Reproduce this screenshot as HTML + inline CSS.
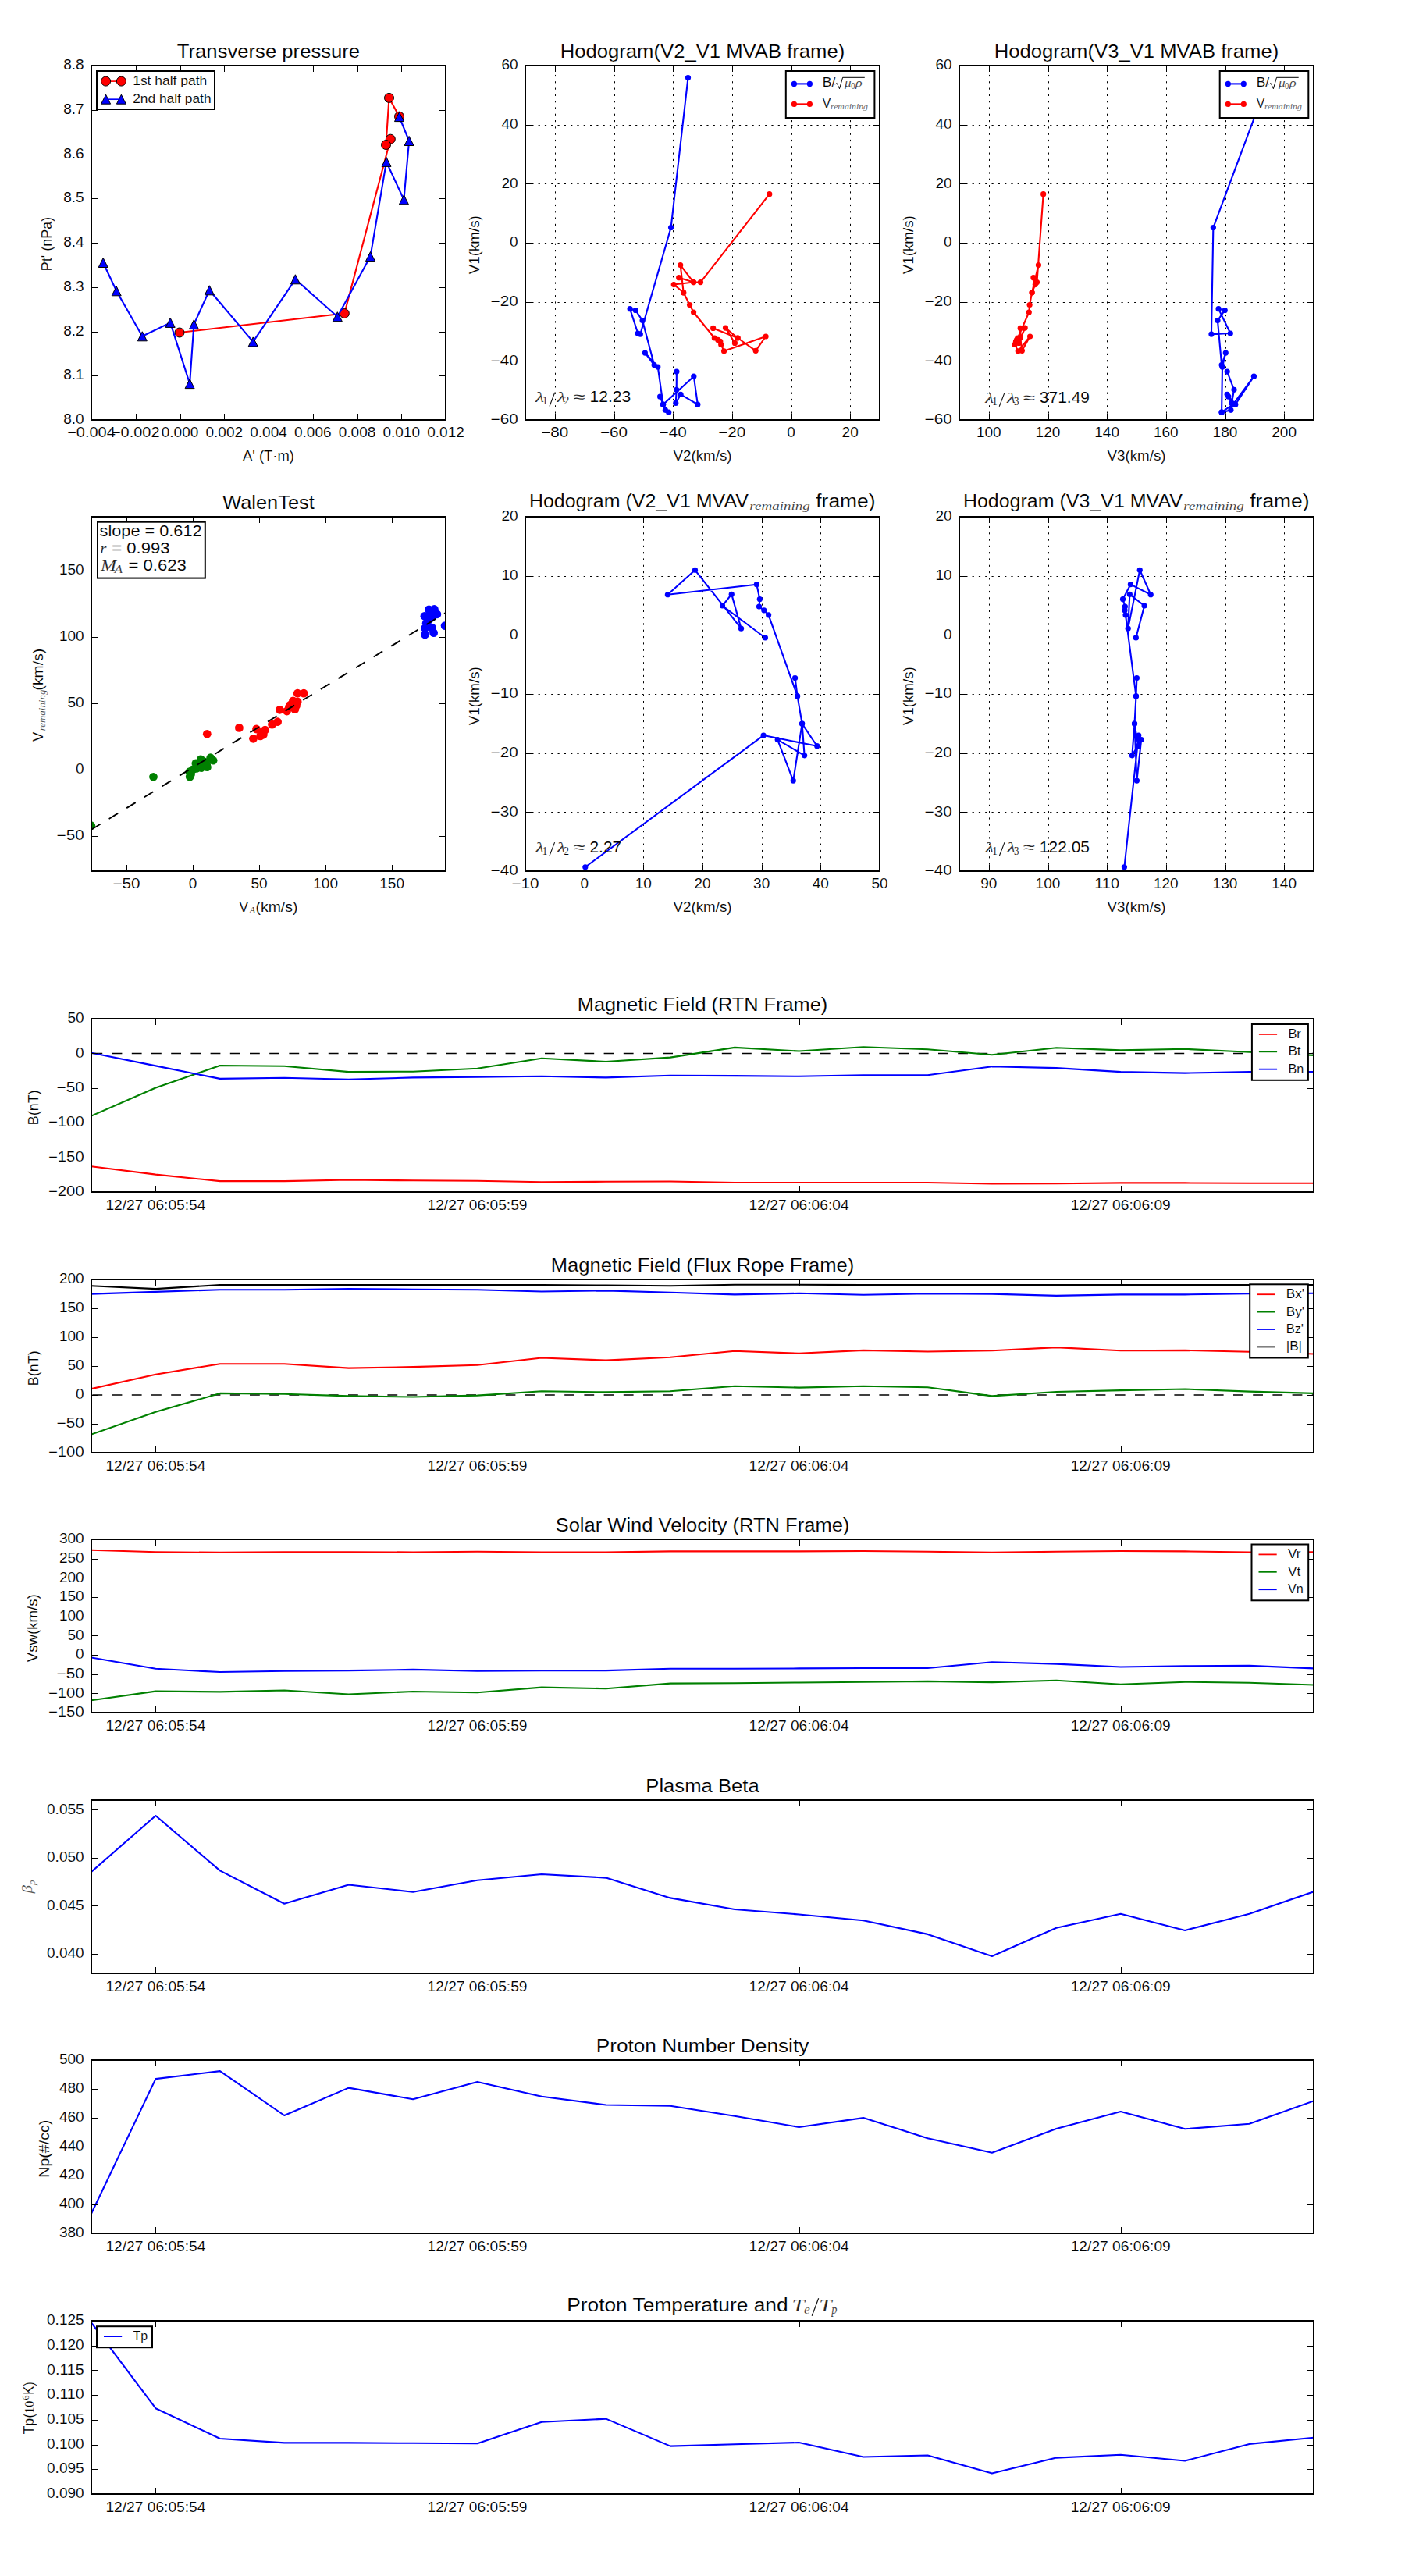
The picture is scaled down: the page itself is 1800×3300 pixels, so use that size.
<!DOCTYPE html><html><head><meta charset="utf-8"><style>html,body{margin:0;padding:0;background:#fff;overflow:hidden}svg{display:block}text{stroke:#fff;stroke-width:0.12px}</style></head><body><svg width="1800" height="3300" viewBox="0 0 1800 3300">
<rect width="1800" height="3300" fill="#fff"/>
<clipPath id="c1"><rect x="117" y="84" width="454" height="454"/></clipPath>
<g clip-path="url(#c1)">
<polyline points="230,426 441.3,401.5 500.3,178.2 494.5,185.5 498.5,125.4 511.5,149.2" fill="none" stroke="#ff0000" stroke-width="2.1" stroke-linejoin="round" stroke-linecap="butt"/>
<circle cx="230" cy="426" r="6" fill="#ff0000" stroke="#000" stroke-width="1"/>
<circle cx="441.3" cy="401.5" r="6" fill="#ff0000" stroke="#000" stroke-width="1"/>
<circle cx="500.3" cy="178.2" r="6" fill="#ff0000" stroke="#000" stroke-width="1"/>
<circle cx="494.5" cy="185.5" r="6" fill="#ff0000" stroke="#000" stroke-width="1"/>
<circle cx="498.5" cy="125.4" r="6" fill="#ff0000" stroke="#000" stroke-width="1"/>
<circle cx="511.5" cy="149.2" r="6" fill="#ff0000" stroke="#000" stroke-width="1"/>
<polyline points="132.2,336.5 149.2,372.8 182.3,430.8 218.2,413.4 243.1,491.6 248.4,415.6 268.3,371.8 324.2,437.9 378.4,357.8 432.3,405.7 474.5,328.6 495,207.4 517.4,255.8 524.1,180.5 511.5,149.6" fill="none" stroke="#0000ff" stroke-width="2.1" stroke-linejoin="round" stroke-linecap="butt"/>
<polygon points="132.2,330.5 126.2,342.5 138.2,342.5" fill="#0000ff" stroke="#000" stroke-width="1" stroke-linejoin="miter"/>
<polygon points="149.2,366.8 143.2,378.8 155.2,378.8" fill="#0000ff" stroke="#000" stroke-width="1" stroke-linejoin="miter"/>
<polygon points="182.3,424.8 176.3,436.8 188.3,436.8" fill="#0000ff" stroke="#000" stroke-width="1" stroke-linejoin="miter"/>
<polygon points="218.2,407.4 212.2,419.4 224.2,419.4" fill="#0000ff" stroke="#000" stroke-width="1" stroke-linejoin="miter"/>
<polygon points="243.1,485.6 237.1,497.6 249.1,497.6" fill="#0000ff" stroke="#000" stroke-width="1" stroke-linejoin="miter"/>
<polygon points="248.4,409.6 242.4,421.6 254.4,421.6" fill="#0000ff" stroke="#000" stroke-width="1" stroke-linejoin="miter"/>
<polygon points="268.3,365.8 262.3,377.8 274.3,377.8" fill="#0000ff" stroke="#000" stroke-width="1" stroke-linejoin="miter"/>
<polygon points="324.2,431.9 318.2,443.9 330.2,443.9" fill="#0000ff" stroke="#000" stroke-width="1" stroke-linejoin="miter"/>
<polygon points="378.4,351.8 372.4,363.8 384.4,363.8" fill="#0000ff" stroke="#000" stroke-width="1" stroke-linejoin="miter"/>
<polygon points="432.3,399.7 426.3,411.7 438.3,411.7" fill="#0000ff" stroke="#000" stroke-width="1" stroke-linejoin="miter"/>
<polygon points="474.5,322.6 468.5,334.6 480.5,334.6" fill="#0000ff" stroke="#000" stroke-width="1" stroke-linejoin="miter"/>
<polygon points="495,201.4 489,213.4 501,213.4" fill="#0000ff" stroke="#000" stroke-width="1" stroke-linejoin="miter"/>
<polygon points="517.4,249.8 511.4,261.8 523.4,261.8" fill="#0000ff" stroke="#000" stroke-width="1" stroke-linejoin="miter"/>
<polygon points="524.1,174.5 518.1,186.5 530.1,186.5" fill="#0000ff" stroke="#000" stroke-width="1" stroke-linejoin="miter"/>
<polygon points="511.5,143.6 505.5,155.6 517.5,155.6" fill="#0000ff" stroke="#000" stroke-width="1" stroke-linejoin="miter"/>
</g>
<line x1="117.5" y1="538" x2="117.5" y2="530" stroke="#000" stroke-width="1" stroke-linecap="butt"/>
<line x1="117.5" y1="84" x2="117.5" y2="92" stroke="#000" stroke-width="1" stroke-linecap="butt"/>
<line x1="174.5" y1="538" x2="174.5" y2="530" stroke="#000" stroke-width="1" stroke-linecap="butt"/>
<line x1="174.5" y1="84" x2="174.5" y2="92" stroke="#000" stroke-width="1" stroke-linecap="butt"/>
<line x1="231.5" y1="538" x2="231.5" y2="530" stroke="#000" stroke-width="1" stroke-linecap="butt"/>
<line x1="231.5" y1="84" x2="231.5" y2="92" stroke="#000" stroke-width="1" stroke-linecap="butt"/>
<line x1="287.5" y1="538" x2="287.5" y2="530" stroke="#000" stroke-width="1" stroke-linecap="butt"/>
<line x1="287.5" y1="84" x2="287.5" y2="92" stroke="#000" stroke-width="1" stroke-linecap="butt"/>
<line x1="344.5" y1="538" x2="344.5" y2="530" stroke="#000" stroke-width="1" stroke-linecap="butt"/>
<line x1="344.5" y1="84" x2="344.5" y2="92" stroke="#000" stroke-width="1" stroke-linecap="butt"/>
<line x1="401.5" y1="538" x2="401.5" y2="530" stroke="#000" stroke-width="1" stroke-linecap="butt"/>
<line x1="401.5" y1="84" x2="401.5" y2="92" stroke="#000" stroke-width="1" stroke-linecap="butt"/>
<line x1="458.5" y1="538" x2="458.5" y2="530" stroke="#000" stroke-width="1" stroke-linecap="butt"/>
<line x1="458.5" y1="84" x2="458.5" y2="92" stroke="#000" stroke-width="1" stroke-linecap="butt"/>
<line x1="514.5" y1="538" x2="514.5" y2="530" stroke="#000" stroke-width="1" stroke-linecap="butt"/>
<line x1="514.5" y1="84" x2="514.5" y2="92" stroke="#000" stroke-width="1" stroke-linecap="butt"/>
<line x1="571.5" y1="538" x2="571.5" y2="530" stroke="#000" stroke-width="1" stroke-linecap="butt"/>
<line x1="571.5" y1="84" x2="571.5" y2="92" stroke="#000" stroke-width="1" stroke-linecap="butt"/>
<line x1="117" y1="538.5" x2="125" y2="538.5" stroke="#000" stroke-width="1" stroke-linecap="butt"/>
<line x1="571" y1="538.5" x2="563" y2="538.5" stroke="#000" stroke-width="1" stroke-linecap="butt"/>
<line x1="117" y1="481.5" x2="125" y2="481.5" stroke="#000" stroke-width="1" stroke-linecap="butt"/>
<line x1="571" y1="481.5" x2="563" y2="481.5" stroke="#000" stroke-width="1" stroke-linecap="butt"/>
<line x1="117" y1="425.5" x2="125" y2="425.5" stroke="#000" stroke-width="1" stroke-linecap="butt"/>
<line x1="571" y1="425.5" x2="563" y2="425.5" stroke="#000" stroke-width="1" stroke-linecap="butt"/>
<line x1="117" y1="368.5" x2="125" y2="368.5" stroke="#000" stroke-width="1" stroke-linecap="butt"/>
<line x1="571" y1="368.5" x2="563" y2="368.5" stroke="#000" stroke-width="1" stroke-linecap="butt"/>
<line x1="117" y1="311.5" x2="125" y2="311.5" stroke="#000" stroke-width="1" stroke-linecap="butt"/>
<line x1="571" y1="311.5" x2="563" y2="311.5" stroke="#000" stroke-width="1" stroke-linecap="butt"/>
<line x1="117" y1="254.5" x2="125" y2="254.5" stroke="#000" stroke-width="1" stroke-linecap="butt"/>
<line x1="571" y1="254.5" x2="563" y2="254.5" stroke="#000" stroke-width="1" stroke-linecap="butt"/>
<line x1="117" y1="198.5" x2="125" y2="198.5" stroke="#000" stroke-width="1" stroke-linecap="butt"/>
<line x1="571" y1="198.5" x2="563" y2="198.5" stroke="#000" stroke-width="1" stroke-linecap="butt"/>
<line x1="117" y1="141.5" x2="125" y2="141.5" stroke="#000" stroke-width="1" stroke-linecap="butt"/>
<line x1="571" y1="141.5" x2="563" y2="141.5" stroke="#000" stroke-width="1" stroke-linecap="butt"/>
<line x1="117" y1="84.5" x2="125" y2="84.5" stroke="#000" stroke-width="1" stroke-linecap="butt"/>
<line x1="571" y1="84.5" x2="563" y2="84.5" stroke="#000" stroke-width="1" stroke-linecap="butt"/>
<rect x="117" y="84" width="454" height="454" fill="none" stroke="#000" stroke-width="2"/>
<rect x="124" y="91" width="151" height="49" fill="#fff" stroke="#000" stroke-width="2"/>
<line x1="135.6" y1="104.1" x2="155.4" y2="104.1" stroke="#ff0000" stroke-width="1.67" stroke-linecap="butt"/>
<circle cx="135.6" cy="104.1" r="6" fill="#ff0000" stroke="#000" stroke-width="1"/>
<circle cx="155.4" cy="104.1" r="6" fill="#ff0000" stroke="#000" stroke-width="1"/>
<line x1="135.6" y1="127.2" x2="155.4" y2="127.2" stroke="#0000ff" stroke-width="1.67" stroke-linecap="butt"/>
<polygon points="135.6,121.2 129.6,133.2 141.6,133.2" fill="#0000ff" stroke="#000" stroke-width="1" stroke-linejoin="miter"/>
<polygon points="155.4,121.2 149.4,133.2 161.4,133.2" fill="#0000ff" stroke="#000" stroke-width="1" stroke-linejoin="miter"/>
<text x="170.2" y="108.6" font-family="Liberation Sans" font-size="15.9" text-anchor="start" textLength="95.03" lengthAdjust="spacingAndGlyphs" fill="#000">1st half path</text>
<text x="170.2" y="131.8" font-family="Liberation Sans" font-size="15.9" text-anchor="start" textLength="100.36" lengthAdjust="spacingAndGlyphs" fill="#000">2nd half path</text>
<text x="117" y="560" font-family="Liberation Sans" font-size="17.67" text-anchor="middle" textLength="61.61" lengthAdjust="spacingAndGlyphs" fill="#000">−0.004</text>
<text x="173.75" y="560" font-family="Liberation Sans" font-size="17.67" text-anchor="middle" textLength="61.61" lengthAdjust="spacingAndGlyphs" fill="#000">−0.002</text>
<text x="230.5" y="560" font-family="Liberation Sans" font-size="17.67" text-anchor="middle" textLength="47.66" lengthAdjust="spacingAndGlyphs" fill="#000">0.000</text>
<text x="287.25" y="560" font-family="Liberation Sans" font-size="17.67" text-anchor="middle" textLength="47.66" lengthAdjust="spacingAndGlyphs" fill="#000">0.002</text>
<text x="344" y="560" font-family="Liberation Sans" font-size="17.67" text-anchor="middle" textLength="47.66" lengthAdjust="spacingAndGlyphs" fill="#000">0.004</text>
<text x="400.75" y="560" font-family="Liberation Sans" font-size="17.67" text-anchor="middle" textLength="47.66" lengthAdjust="spacingAndGlyphs" fill="#000">0.006</text>
<text x="457.5" y="560" font-family="Liberation Sans" font-size="17.67" text-anchor="middle" textLength="47.66" lengthAdjust="spacingAndGlyphs" fill="#000">0.008</text>
<text x="514.25" y="560" font-family="Liberation Sans" font-size="17.67" text-anchor="middle" textLength="47.66" lengthAdjust="spacingAndGlyphs" fill="#000">0.010</text>
<text x="571" y="560" font-family="Liberation Sans" font-size="17.67" text-anchor="middle" textLength="47.66" lengthAdjust="spacingAndGlyphs" fill="#000">0.012</text>
<text x="107.7" y="543.2" font-family="Liberation Sans" font-size="17.67" text-anchor="end" textLength="26.48" lengthAdjust="spacingAndGlyphs" fill="#000">8.0</text>
<text x="107.7" y="486.45" font-family="Liberation Sans" font-size="17.67" text-anchor="end" textLength="26.48" lengthAdjust="spacingAndGlyphs" fill="#000">8.1</text>
<text x="107.7" y="429.7" font-family="Liberation Sans" font-size="17.67" text-anchor="end" textLength="26.48" lengthAdjust="spacingAndGlyphs" fill="#000">8.2</text>
<text x="107.7" y="372.95" font-family="Liberation Sans" font-size="17.67" text-anchor="end" textLength="26.48" lengthAdjust="spacingAndGlyphs" fill="#000">8.3</text>
<text x="107.7" y="316.2" font-family="Liberation Sans" font-size="17.67" text-anchor="end" textLength="26.48" lengthAdjust="spacingAndGlyphs" fill="#000">8.4</text>
<text x="107.7" y="259.45" font-family="Liberation Sans" font-size="17.67" text-anchor="end" textLength="26.48" lengthAdjust="spacingAndGlyphs" fill="#000">8.5</text>
<text x="107.7" y="202.7" font-family="Liberation Sans" font-size="17.67" text-anchor="end" textLength="26.48" lengthAdjust="spacingAndGlyphs" fill="#000">8.6</text>
<text x="107.7" y="145.95" font-family="Liberation Sans" font-size="17.67" text-anchor="end" textLength="26.48" lengthAdjust="spacingAndGlyphs" fill="#000">8.7</text>
<text x="107.7" y="89.2" font-family="Liberation Sans" font-size="17.67" text-anchor="end" textLength="26.48" lengthAdjust="spacingAndGlyphs" fill="#000">8.8</text>
<text x="344" y="74" font-family="Liberation Sans" font-size="24.73" text-anchor="middle" textLength="234.3" lengthAdjust="spacingAndGlyphs" fill="#000">Transverse pressure</text>
<text x="344" y="590.2" font-family="Liberation Sans" font-size="17.67" text-anchor="middle" textLength="65.93" lengthAdjust="spacingAndGlyphs" fill="#000">A' (T·m)</text>
<text x="66.3" y="312.5" font-family="Liberation Sans" font-size="17.67" text-anchor="middle" textLength="69.48" lengthAdjust="spacingAndGlyphs" fill="#000" transform="rotate(-90 66.3 312.5)">Pt' (nPa)</text>
<clipPath id="c2"><rect x="673" y="84" width="454" height="454"/></clipPath>
<line x1="711.5" y1="538" x2="711.5" y2="84" stroke="#000" stroke-width="1" stroke-dasharray="2.2 6.1"/>
<line x1="787.5" y1="538" x2="787.5" y2="84" stroke="#000" stroke-width="1" stroke-dasharray="2.2 6.1"/>
<line x1="862.5" y1="538" x2="862.5" y2="84" stroke="#000" stroke-width="1" stroke-dasharray="2.2 6.1"/>
<line x1="938.5" y1="538" x2="938.5" y2="84" stroke="#000" stroke-width="1" stroke-dasharray="2.2 6.1"/>
<line x1="1014.5" y1="538" x2="1014.5" y2="84" stroke="#000" stroke-width="1" stroke-dasharray="2.2 6.1"/>
<line x1="1089.5" y1="538" x2="1089.5" y2="84" stroke="#000" stroke-width="1" stroke-dasharray="2.2 6.1"/>
<line x1="673" y1="538.5" x2="1127" y2="538.5" stroke="#000" stroke-width="1" stroke-dasharray="2.2 6.1"/>
<line x1="673" y1="462.5" x2="1127" y2="462.5" stroke="#000" stroke-width="1" stroke-dasharray="2.2 6.1"/>
<line x1="673" y1="387.5" x2="1127" y2="387.5" stroke="#000" stroke-width="1" stroke-dasharray="2.2 6.1"/>
<line x1="673" y1="311.5" x2="1127" y2="311.5" stroke="#000" stroke-width="1" stroke-dasharray="2.2 6.1"/>
<line x1="673" y1="235.5" x2="1127" y2="235.5" stroke="#000" stroke-width="1" stroke-dasharray="2.2 6.1"/>
<line x1="673" y1="160.5" x2="1127" y2="160.5" stroke="#000" stroke-width="1" stroke-dasharray="2.2 6.1"/>
<line x1="673" y1="84.5" x2="1127" y2="84.5" stroke="#000" stroke-width="1" stroke-dasharray="2.2 6.1"/>
<g clip-path="url(#c2)">
<polyline points="881.49,99.58 859.59,291.51 820.32,428.12 817.22,426.99 807.11,395.66 814.26,397.48 823.08,410.61 838.14,467.51 826.37,452.03 842.79,470.01 849.56,518.21 888.83,482.15 893.83,518.21 872.04,505.34 865.76,516.43 866.7,499.29 866.89,476.1" fill="none" stroke="#0000ff" stroke-width="2.1" stroke-linejoin="round" stroke-linecap="butt"/>
<circle cx="881.49" cy="99.58" r="3.6" fill="#0000ff"/>
<circle cx="859.59" cy="291.51" r="3.6" fill="#0000ff"/>
<circle cx="820.32" cy="428.12" r="3.6" fill="#0000ff"/>
<circle cx="817.22" cy="426.99" r="3.6" fill="#0000ff"/>
<circle cx="807.11" cy="395.66" r="3.6" fill="#0000ff"/>
<circle cx="814.26" cy="397.48" r="3.6" fill="#0000ff"/>
<circle cx="823.08" cy="410.61" r="3.6" fill="#0000ff"/>
<circle cx="838.14" cy="467.51" r="3.6" fill="#0000ff"/>
<circle cx="826.37" cy="452.03" r="3.6" fill="#0000ff"/>
<circle cx="842.79" cy="470.01" r="3.6" fill="#0000ff"/>
<circle cx="849.56" cy="518.21" r="3.6" fill="#0000ff"/>
<circle cx="888.83" cy="482.15" r="3.6" fill="#0000ff"/>
<circle cx="893.83" cy="518.21" r="3.6" fill="#0000ff"/>
<circle cx="872.04" cy="505.34" r="3.6" fill="#0000ff"/>
<circle cx="865.76" cy="516.43" r="3.6" fill="#0000ff"/>
<circle cx="866.7" cy="499.29" r="3.6" fill="#0000ff"/>
<circle cx="866.89" cy="476.1" r="3.6" fill="#0000ff"/>
<polyline points="845.63,508.22 849.56,518.21 852.4,525.36 856.71,528.19" fill="none" stroke="#0000ff" stroke-width="2.1" stroke-linejoin="round" stroke-linecap="butt"/>
<circle cx="845.63" cy="508.22" r="3.6" fill="#0000ff"/>
<circle cx="849.56" cy="518.21" r="3.6" fill="#0000ff"/>
<circle cx="852.4" cy="525.36" r="3.6" fill="#0000ff"/>
<circle cx="856.71" cy="528.19" r="3.6" fill="#0000ff"/>
<polyline points="985.76,248.68 897.46,361.58 888.57,361.58 871.7,339.56 875.67,374.78 883.58,390.56 888.57,399.98 915.32,433 919.78,435.46 922.77,437.43 923.75,441.4 927.54,449.84 981.07,431 968.17,449.35 945.09,433 929.5,420.1 941.42,439.44" fill="none" stroke="#ff0000" stroke-width="2.1" stroke-linejoin="round" stroke-linecap="butt"/>
<circle cx="985.76" cy="248.68" r="3.6" fill="#ff0000"/>
<circle cx="897.46" cy="361.58" r="3.6" fill="#ff0000"/>
<circle cx="888.57" cy="361.58" r="3.6" fill="#ff0000"/>
<circle cx="871.7" cy="339.56" r="3.6" fill="#ff0000"/>
<circle cx="875.67" cy="374.78" r="3.6" fill="#ff0000"/>
<circle cx="883.58" cy="390.56" r="3.6" fill="#ff0000"/>
<circle cx="888.57" cy="399.98" r="3.6" fill="#ff0000"/>
<circle cx="915.32" cy="433" r="3.6" fill="#ff0000"/>
<circle cx="919.78" cy="435.46" r="3.6" fill="#ff0000"/>
<circle cx="922.77" cy="437.43" r="3.6" fill="#ff0000"/>
<circle cx="923.75" cy="441.4" r="3.6" fill="#ff0000"/>
<circle cx="927.54" cy="449.84" r="3.6" fill="#ff0000"/>
<circle cx="981.07" cy="431" r="3.6" fill="#ff0000"/>
<circle cx="968.17" cy="449.35" r="3.6" fill="#ff0000"/>
<circle cx="945.09" cy="433" r="3.6" fill="#ff0000"/>
<circle cx="929.5" cy="420.1" r="3.6" fill="#ff0000"/>
<circle cx="941.42" cy="439.44" r="3.6" fill="#ff0000"/>
<polyline points="869.69,355.64 888.57,361.58 863.26,364.56 875.67,374.78" fill="none" stroke="#ff0000" stroke-width="2.1" stroke-linejoin="round" stroke-linecap="butt"/>
<circle cx="869.69" cy="355.64" r="3.6" fill="#ff0000"/>
<circle cx="888.57" cy="361.58" r="3.6" fill="#ff0000"/>
<circle cx="863.26" cy="364.56" r="3.6" fill="#ff0000"/>
<circle cx="875.67" cy="374.78" r="3.6" fill="#ff0000"/>
<polyline points="913.65,420.41 945.09,433" fill="none" stroke="#ff0000" stroke-width="2.1" stroke-linejoin="round" stroke-linecap="butt"/>
<circle cx="913.65" cy="420.41" r="3.6" fill="#ff0000"/>
<circle cx="945.09" cy="433" r="3.6" fill="#ff0000"/>
</g>
<line x1="711.5" y1="538" x2="711.5" y2="530" stroke="#000" stroke-width="1" stroke-linecap="butt"/>
<line x1="711.5" y1="84" x2="711.5" y2="92" stroke="#000" stroke-width="1" stroke-linecap="butt"/>
<line x1="787.5" y1="538" x2="787.5" y2="530" stroke="#000" stroke-width="1" stroke-linecap="butt"/>
<line x1="787.5" y1="84" x2="787.5" y2="92" stroke="#000" stroke-width="1" stroke-linecap="butt"/>
<line x1="862.5" y1="538" x2="862.5" y2="530" stroke="#000" stroke-width="1" stroke-linecap="butt"/>
<line x1="862.5" y1="84" x2="862.5" y2="92" stroke="#000" stroke-width="1" stroke-linecap="butt"/>
<line x1="938.5" y1="538" x2="938.5" y2="530" stroke="#000" stroke-width="1" stroke-linecap="butt"/>
<line x1="938.5" y1="84" x2="938.5" y2="92" stroke="#000" stroke-width="1" stroke-linecap="butt"/>
<line x1="1014.5" y1="538" x2="1014.5" y2="530" stroke="#000" stroke-width="1" stroke-linecap="butt"/>
<line x1="1014.5" y1="84" x2="1014.5" y2="92" stroke="#000" stroke-width="1" stroke-linecap="butt"/>
<line x1="1089.5" y1="538" x2="1089.5" y2="530" stroke="#000" stroke-width="1" stroke-linecap="butt"/>
<line x1="1089.5" y1="84" x2="1089.5" y2="92" stroke="#000" stroke-width="1" stroke-linecap="butt"/>
<line x1="673" y1="538.5" x2="681" y2="538.5" stroke="#000" stroke-width="1" stroke-linecap="butt"/>
<line x1="1127" y1="538.5" x2="1119" y2="538.5" stroke="#000" stroke-width="1" stroke-linecap="butt"/>
<line x1="673" y1="462.5" x2="681" y2="462.5" stroke="#000" stroke-width="1" stroke-linecap="butt"/>
<line x1="1127" y1="462.5" x2="1119" y2="462.5" stroke="#000" stroke-width="1" stroke-linecap="butt"/>
<line x1="673" y1="387.5" x2="681" y2="387.5" stroke="#000" stroke-width="1" stroke-linecap="butt"/>
<line x1="1127" y1="387.5" x2="1119" y2="387.5" stroke="#000" stroke-width="1" stroke-linecap="butt"/>
<line x1="673" y1="311.5" x2="681" y2="311.5" stroke="#000" stroke-width="1" stroke-linecap="butt"/>
<line x1="1127" y1="311.5" x2="1119" y2="311.5" stroke="#000" stroke-width="1" stroke-linecap="butt"/>
<line x1="673" y1="235.5" x2="681" y2="235.5" stroke="#000" stroke-width="1" stroke-linecap="butt"/>
<line x1="1127" y1="235.5" x2="1119" y2="235.5" stroke="#000" stroke-width="1" stroke-linecap="butt"/>
<line x1="673" y1="160.5" x2="681" y2="160.5" stroke="#000" stroke-width="1" stroke-linecap="butt"/>
<line x1="1127" y1="160.5" x2="1119" y2="160.5" stroke="#000" stroke-width="1" stroke-linecap="butt"/>
<line x1="673" y1="84.5" x2="681" y2="84.5" stroke="#000" stroke-width="1" stroke-linecap="butt"/>
<line x1="1127" y1="84.5" x2="1119" y2="84.5" stroke="#000" stroke-width="1" stroke-linecap="butt"/>
<rect x="673" y="84" width="454" height="454" fill="none" stroke="#000" stroke-width="2"/>
<rect x="1006.8" y="91" width="113.6" height="60" fill="#fff" stroke="#000" stroke-width="2"/>
<line x1="1017.4" y1="107.4" x2="1037.4" y2="107.4" stroke="#0000ff" stroke-width="2.1" stroke-linecap="butt"/>
<circle cx="1017.4" cy="107.4" r="3.6" fill="#0000ff"/>
<circle cx="1037.4" cy="107.4" r="3.6" fill="#0000ff"/>
<line x1="1017.4" y1="133.4" x2="1037.4" y2="133.4" stroke="#ff0000" stroke-width="2.1" stroke-linecap="butt"/>
<circle cx="1017.4" cy="133.4" r="3.6" fill="#ff0000"/>
<circle cx="1037.4" cy="133.4" r="3.6" fill="#ff0000"/>
<text x="1053.8" y="111" font-family="Liberation Sans" font-size="15.9" text-anchor="start" textLength="16.5" lengthAdjust="spacingAndGlyphs" fill="#000">B/</text>
<path d="M 1069.8 108 L 1072.2 106.6 L 1075.5 113.7 L 1079.6 99.3 L 1107.8 99.3" fill="none" stroke="#000" stroke-width="1.0" stroke-linejoin="miter"/>
<text x="1082.1" y="111.4" font-family="Liberation Serif" font-size="14.84" font-style="italic" text-anchor="start" textLength="8.6" lengthAdjust="spacingAndGlyphs" fill="#333">μ</text>
<text x="1090.2" y="113.7" font-family="Liberation Serif" font-size="12.19" text-anchor="start" textLength="5.3" lengthAdjust="spacingAndGlyphs" fill="#333">0</text>
<text x="1096" y="111.4" font-family="Liberation Serif" font-size="14.84" font-style="italic" text-anchor="start" textLength="8.6" lengthAdjust="spacingAndGlyphs" fill="#333">ρ</text>
<text x="1053.8" y="137.8" font-family="Liberation Sans" font-size="15.9" text-anchor="start" textLength="10.5" lengthAdjust="spacingAndGlyphs" fill="#000">V</text>
<text x="1064" y="139.8" font-family="Liberation Serif" font-size="11.24" font-style="italic" text-anchor="start" textLength="48" lengthAdjust="spacingAndGlyphs" fill="#444">remaining</text>
<text x="710.83" y="560" font-family="Liberation Sans" font-size="17.67" text-anchor="middle" textLength="35.14" lengthAdjust="spacingAndGlyphs" fill="#000">−80</text>
<text x="786.5" y="560" font-family="Liberation Sans" font-size="17.67" text-anchor="middle" textLength="35.14" lengthAdjust="spacingAndGlyphs" fill="#000">−60</text>
<text x="862.17" y="560" font-family="Liberation Sans" font-size="17.67" text-anchor="middle" textLength="35.14" lengthAdjust="spacingAndGlyphs" fill="#000">−40</text>
<text x="937.83" y="560" font-family="Liberation Sans" font-size="17.67" text-anchor="middle" textLength="35.14" lengthAdjust="spacingAndGlyphs" fill="#000">−20</text>
<text x="1013.5" y="560" font-family="Liberation Sans" font-size="17.67" text-anchor="middle" textLength="10.59" lengthAdjust="spacingAndGlyphs" fill="#000">0</text>
<text x="1089.17" y="560" font-family="Liberation Sans" font-size="17.67" text-anchor="middle" textLength="21.19" lengthAdjust="spacingAndGlyphs" fill="#000">20</text>
<text x="663.7" y="543.2" font-family="Liberation Sans" font-size="17.67" text-anchor="end" textLength="35.14" lengthAdjust="spacingAndGlyphs" fill="#000">−60</text>
<text x="663.7" y="467.53" font-family="Liberation Sans" font-size="17.67" text-anchor="end" textLength="35.14" lengthAdjust="spacingAndGlyphs" fill="#000">−40</text>
<text x="663.7" y="391.87" font-family="Liberation Sans" font-size="17.67" text-anchor="end" textLength="35.14" lengthAdjust="spacingAndGlyphs" fill="#000">−20</text>
<text x="663.7" y="316.2" font-family="Liberation Sans" font-size="17.67" text-anchor="end" textLength="10.59" lengthAdjust="spacingAndGlyphs" fill="#000">0</text>
<text x="663.7" y="240.53" font-family="Liberation Sans" font-size="17.67" text-anchor="end" textLength="21.19" lengthAdjust="spacingAndGlyphs" fill="#000">20</text>
<text x="663.7" y="164.87" font-family="Liberation Sans" font-size="17.67" text-anchor="end" textLength="21.19" lengthAdjust="spacingAndGlyphs" fill="#000">40</text>
<text x="663.7" y="89.2" font-family="Liberation Sans" font-size="17.67" text-anchor="end" textLength="21.19" lengthAdjust="spacingAndGlyphs" fill="#000">60</text>
<text x="900" y="74" font-family="Liberation Sans" font-size="24.73" text-anchor="middle" textLength="364.69" lengthAdjust="spacingAndGlyphs" fill="#000">Hodogram(V2_V1 MVAB frame)</text>
<text x="900" y="590" font-family="Liberation Sans" font-size="17.67" text-anchor="middle" textLength="75.12" lengthAdjust="spacingAndGlyphs" fill="#000">V2(km/s)</text>
<text x="614.2" y="313.7" font-family="Liberation Sans" font-size="17.67" text-anchor="middle" textLength="75.12" lengthAdjust="spacingAndGlyphs" fill="#000" transform="rotate(-90 614.2 313.7)">V1(km/s)</text>
<text x="686.1" y="515.3" font-family="Liberation Serif" font-size="19.29" font-style="italic" text-anchor="start" textLength="11" lengthAdjust="spacingAndGlyphs" fill="#222">λ</text>
<text x="695" y="518.2" font-family="Liberation Serif" font-size="13.57" text-anchor="start" textLength="6.5" lengthAdjust="spacingAndGlyphs" fill="#000">1</text>
<line x1="710.8" y1="502.8" x2="704" y2="520.5" stroke="#111" stroke-width="1.1"/>
<text x="713.7" y="515.3" font-family="Liberation Serif" font-size="19.29" font-style="italic" text-anchor="start" textLength="11" lengthAdjust="spacingAndGlyphs" fill="#222">λ</text>
<text x="722.8" y="518.2" font-family="Liberation Serif" font-size="13.57" text-anchor="start" textLength="6.5" lengthAdjust="spacingAndGlyphs" fill="#000">2</text>
<text x="734.6" y="515.3" font-family="Liberation Sans" font-size="19.08" text-anchor="start" textLength="15.2" lengthAdjust="spacingAndGlyphs" fill="#222">≈</text>
<text x="755.6" y="515.3" font-family="Liberation Sans" font-size="19.43" text-anchor="start" textLength="52.53" lengthAdjust="spacingAndGlyphs" fill="#000">12.23</text>
<clipPath id="c3"><rect x="1229" y="84" width="454" height="454"/></clipPath>
<line x1="1267.5" y1="538" x2="1267.5" y2="84" stroke="#000" stroke-width="1" stroke-dasharray="2.2 6.1"/>
<line x1="1343.5" y1="538" x2="1343.5" y2="84" stroke="#000" stroke-width="1" stroke-dasharray="2.2 6.1"/>
<line x1="1418.5" y1="538" x2="1418.5" y2="84" stroke="#000" stroke-width="1" stroke-dasharray="2.2 6.1"/>
<line x1="1494.5" y1="538" x2="1494.5" y2="84" stroke="#000" stroke-width="1" stroke-dasharray="2.2 6.1"/>
<line x1="1570.5" y1="538" x2="1570.5" y2="84" stroke="#000" stroke-width="1" stroke-dasharray="2.2 6.1"/>
<line x1="1645.5" y1="538" x2="1645.5" y2="84" stroke="#000" stroke-width="1" stroke-dasharray="2.2 6.1"/>
<line x1="1229" y1="538.5" x2="1683" y2="538.5" stroke="#000" stroke-width="1" stroke-dasharray="2.2 6.1"/>
<line x1="1229" y1="462.5" x2="1683" y2="462.5" stroke="#000" stroke-width="1" stroke-dasharray="2.2 6.1"/>
<line x1="1229" y1="387.5" x2="1683" y2="387.5" stroke="#000" stroke-width="1" stroke-dasharray="2.2 6.1"/>
<line x1="1229" y1="311.5" x2="1683" y2="311.5" stroke="#000" stroke-width="1" stroke-dasharray="2.2 6.1"/>
<line x1="1229" y1="235.5" x2="1683" y2="235.5" stroke="#000" stroke-width="1" stroke-dasharray="2.2 6.1"/>
<line x1="1229" y1="160.5" x2="1683" y2="160.5" stroke="#000" stroke-width="1" stroke-dasharray="2.2 6.1"/>
<line x1="1229" y1="84.5" x2="1683" y2="84.5" stroke="#000" stroke-width="1" stroke-dasharray="2.2 6.1"/>
<g clip-path="url(#c3)">
<polyline points="1626.09,99.58 1554.36,291.51 1551.94,428.12 1576.3,426.99 1561.06,395.66 1569.23,397.48 1559.96,410.61 1565.11,467.51 1570.29,452.03 1565.98,470.01 1565.11,528.19 1579.56,518.21 1606.42,482.15 1582.74,518.21 1572.18,505.34 1578.01,516.43 1581.03,499.29 1572.18,476.1" fill="none" stroke="#0000ff" stroke-width="2.1" stroke-linejoin="round" stroke-linecap="butt"/>
<circle cx="1626.09" cy="99.58" r="3.6" fill="#0000ff"/>
<circle cx="1554.36" cy="291.51" r="3.6" fill="#0000ff"/>
<circle cx="1551.94" cy="428.12" r="3.6" fill="#0000ff"/>
<circle cx="1576.3" cy="426.99" r="3.6" fill="#0000ff"/>
<circle cx="1561.06" cy="395.66" r="3.6" fill="#0000ff"/>
<circle cx="1569.23" cy="397.48" r="3.6" fill="#0000ff"/>
<circle cx="1559.96" cy="410.61" r="3.6" fill="#0000ff"/>
<circle cx="1565.11" cy="467.51" r="3.6" fill="#0000ff"/>
<circle cx="1570.29" cy="452.03" r="3.6" fill="#0000ff"/>
<circle cx="1565.98" cy="470.01" r="3.6" fill="#0000ff"/>
<circle cx="1565.11" cy="528.19" r="3.6" fill="#0000ff"/>
<circle cx="1579.56" cy="518.21" r="3.6" fill="#0000ff"/>
<circle cx="1606.42" cy="482.15" r="3.6" fill="#0000ff"/>
<circle cx="1582.74" cy="518.21" r="3.6" fill="#0000ff"/>
<circle cx="1572.18" cy="505.34" r="3.6" fill="#0000ff"/>
<circle cx="1578.01" cy="516.43" r="3.6" fill="#0000ff"/>
<circle cx="1581.03" cy="499.29" r="3.6" fill="#0000ff"/>
<circle cx="1572.18" cy="476.1" r="3.6" fill="#0000ff"/>
<polyline points="1573.88,508.22 1579.56,518.21 1576.91,525.36 1565.11,528.19" fill="none" stroke="#0000ff" stroke-width="2.1" stroke-linejoin="round" stroke-linecap="butt"/>
<circle cx="1573.88" cy="508.22" r="3.6" fill="#0000ff"/>
<circle cx="1579.56" cy="518.21" r="3.6" fill="#0000ff"/>
<circle cx="1576.91" cy="525.36" r="3.6" fill="#0000ff"/>
<circle cx="1565.11" cy="528.19" r="3.6" fill="#0000ff"/>
<polyline points="1336.67,248.68 1328.46,361.58 1327.21,361.58 1330.43,339.56 1322.1,374.78 1319.11,390.56 1318.28,399.98 1303.83,433 1302.54,435.46 1301.48,437.43 1300.01,441.4 1304.25,449.84 1319.57,431 1309.35,449.35 1307.16,433 1313.17,420.1 1305.27,439.44" fill="none" stroke="#ff0000" stroke-width="2.1" stroke-linejoin="round" stroke-linecap="butt"/>
<circle cx="1336.67" cy="248.68" r="3.6" fill="#ff0000"/>
<circle cx="1328.46" cy="361.58" r="3.6" fill="#ff0000"/>
<circle cx="1327.21" cy="361.58" r="3.6" fill="#ff0000"/>
<circle cx="1330.43" cy="339.56" r="3.6" fill="#ff0000"/>
<circle cx="1322.1" cy="374.78" r="3.6" fill="#ff0000"/>
<circle cx="1319.11" cy="390.56" r="3.6" fill="#ff0000"/>
<circle cx="1318.28" cy="399.98" r="3.6" fill="#ff0000"/>
<circle cx="1303.83" cy="433" r="3.6" fill="#ff0000"/>
<circle cx="1302.54" cy="435.46" r="3.6" fill="#ff0000"/>
<circle cx="1301.48" cy="437.43" r="3.6" fill="#ff0000"/>
<circle cx="1300.01" cy="441.4" r="3.6" fill="#ff0000"/>
<circle cx="1304.25" cy="449.84" r="3.6" fill="#ff0000"/>
<circle cx="1319.57" cy="431" r="3.6" fill="#ff0000"/>
<circle cx="1309.35" cy="449.35" r="3.6" fill="#ff0000"/>
<circle cx="1307.16" cy="433" r="3.6" fill="#ff0000"/>
<circle cx="1313.17" cy="420.1" r="3.6" fill="#ff0000"/>
<circle cx="1305.27" cy="439.44" r="3.6" fill="#ff0000"/>
<polyline points="1323.96,355.64 1327.21,361.58 1326.34,364.56 1322.1,374.78" fill="none" stroke="#ff0000" stroke-width="2.1" stroke-linejoin="round" stroke-linecap="butt"/>
<circle cx="1323.96" cy="355.64" r="3.6" fill="#ff0000"/>
<circle cx="1327.21" cy="361.58" r="3.6" fill="#ff0000"/>
<circle cx="1326.34" cy="364.56" r="3.6" fill="#ff0000"/>
<circle cx="1322.1" cy="374.78" r="3.6" fill="#ff0000"/>
<polyline points="1307.23,420.41 1307.16,433" fill="none" stroke="#ff0000" stroke-width="2.1" stroke-linejoin="round" stroke-linecap="butt"/>
<circle cx="1307.23" cy="420.41" r="3.6" fill="#ff0000"/>
<circle cx="1307.16" cy="433" r="3.6" fill="#ff0000"/>
</g>
<line x1="1267.5" y1="538" x2="1267.5" y2="530" stroke="#000" stroke-width="1" stroke-linecap="butt"/>
<line x1="1267.5" y1="84" x2="1267.5" y2="92" stroke="#000" stroke-width="1" stroke-linecap="butt"/>
<line x1="1343.5" y1="538" x2="1343.5" y2="530" stroke="#000" stroke-width="1" stroke-linecap="butt"/>
<line x1="1343.5" y1="84" x2="1343.5" y2="92" stroke="#000" stroke-width="1" stroke-linecap="butt"/>
<line x1="1418.5" y1="538" x2="1418.5" y2="530" stroke="#000" stroke-width="1" stroke-linecap="butt"/>
<line x1="1418.5" y1="84" x2="1418.5" y2="92" stroke="#000" stroke-width="1" stroke-linecap="butt"/>
<line x1="1494.5" y1="538" x2="1494.5" y2="530" stroke="#000" stroke-width="1" stroke-linecap="butt"/>
<line x1="1494.5" y1="84" x2="1494.5" y2="92" stroke="#000" stroke-width="1" stroke-linecap="butt"/>
<line x1="1570.5" y1="538" x2="1570.5" y2="530" stroke="#000" stroke-width="1" stroke-linecap="butt"/>
<line x1="1570.5" y1="84" x2="1570.5" y2="92" stroke="#000" stroke-width="1" stroke-linecap="butt"/>
<line x1="1645.5" y1="538" x2="1645.5" y2="530" stroke="#000" stroke-width="1" stroke-linecap="butt"/>
<line x1="1645.5" y1="84" x2="1645.5" y2="92" stroke="#000" stroke-width="1" stroke-linecap="butt"/>
<line x1="1229" y1="538.5" x2="1237" y2="538.5" stroke="#000" stroke-width="1" stroke-linecap="butt"/>
<line x1="1683" y1="538.5" x2="1675" y2="538.5" stroke="#000" stroke-width="1" stroke-linecap="butt"/>
<line x1="1229" y1="462.5" x2="1237" y2="462.5" stroke="#000" stroke-width="1" stroke-linecap="butt"/>
<line x1="1683" y1="462.5" x2="1675" y2="462.5" stroke="#000" stroke-width="1" stroke-linecap="butt"/>
<line x1="1229" y1="387.5" x2="1237" y2="387.5" stroke="#000" stroke-width="1" stroke-linecap="butt"/>
<line x1="1683" y1="387.5" x2="1675" y2="387.5" stroke="#000" stroke-width="1" stroke-linecap="butt"/>
<line x1="1229" y1="311.5" x2="1237" y2="311.5" stroke="#000" stroke-width="1" stroke-linecap="butt"/>
<line x1="1683" y1="311.5" x2="1675" y2="311.5" stroke="#000" stroke-width="1" stroke-linecap="butt"/>
<line x1="1229" y1="235.5" x2="1237" y2="235.5" stroke="#000" stroke-width="1" stroke-linecap="butt"/>
<line x1="1683" y1="235.5" x2="1675" y2="235.5" stroke="#000" stroke-width="1" stroke-linecap="butt"/>
<line x1="1229" y1="160.5" x2="1237" y2="160.5" stroke="#000" stroke-width="1" stroke-linecap="butt"/>
<line x1="1683" y1="160.5" x2="1675" y2="160.5" stroke="#000" stroke-width="1" stroke-linecap="butt"/>
<line x1="1229" y1="84.5" x2="1237" y2="84.5" stroke="#000" stroke-width="1" stroke-linecap="butt"/>
<line x1="1683" y1="84.5" x2="1675" y2="84.5" stroke="#000" stroke-width="1" stroke-linecap="butt"/>
<rect x="1229" y="84" width="454" height="454" fill="none" stroke="#000" stroke-width="2"/>
<rect x="1562.7" y="91" width="113.6" height="60" fill="#fff" stroke="#000" stroke-width="2"/>
<line x1="1573.3" y1="107.4" x2="1593.3" y2="107.4" stroke="#0000ff" stroke-width="2.1" stroke-linecap="butt"/>
<circle cx="1573.3" cy="107.4" r="3.6" fill="#0000ff"/>
<circle cx="1593.3" cy="107.4" r="3.6" fill="#0000ff"/>
<line x1="1573.3" y1="133.4" x2="1593.3" y2="133.4" stroke="#ff0000" stroke-width="2.1" stroke-linecap="butt"/>
<circle cx="1573.3" cy="133.4" r="3.6" fill="#ff0000"/>
<circle cx="1593.3" cy="133.4" r="3.6" fill="#ff0000"/>
<text x="1609.7" y="111" font-family="Liberation Sans" font-size="15.9" text-anchor="start" textLength="16.5" lengthAdjust="spacingAndGlyphs" fill="#000">B/</text>
<path d="M 1625.7 108 L 1628.1 106.6 L 1631.4 113.7 L 1635.5 99.3 L 1663.7 99.3" fill="none" stroke="#000" stroke-width="1.0" stroke-linejoin="miter"/>
<text x="1638" y="111.4" font-family="Liberation Serif" font-size="14.84" font-style="italic" text-anchor="start" textLength="8.6" lengthAdjust="spacingAndGlyphs" fill="#333">μ</text>
<text x="1646.1" y="113.7" font-family="Liberation Serif" font-size="12.19" text-anchor="start" textLength="5.3" lengthAdjust="spacingAndGlyphs" fill="#333">0</text>
<text x="1651.9" y="111.4" font-family="Liberation Serif" font-size="14.84" font-style="italic" text-anchor="start" textLength="8.6" lengthAdjust="spacingAndGlyphs" fill="#333">ρ</text>
<text x="1609.7" y="137.8" font-family="Liberation Sans" font-size="15.9" text-anchor="start" textLength="10.5" lengthAdjust="spacingAndGlyphs" fill="#000">V</text>
<text x="1619.9" y="139.8" font-family="Liberation Serif" font-size="11.24" font-style="italic" text-anchor="start" textLength="48" lengthAdjust="spacingAndGlyphs" fill="#444">remaining</text>
<text x="1266.83" y="560" font-family="Liberation Sans" font-size="17.67" text-anchor="middle" textLength="31.78" lengthAdjust="spacingAndGlyphs" fill="#000">100</text>
<text x="1342.5" y="560" font-family="Liberation Sans" font-size="17.67" text-anchor="middle" textLength="31.78" lengthAdjust="spacingAndGlyphs" fill="#000">120</text>
<text x="1418.17" y="560" font-family="Liberation Sans" font-size="17.67" text-anchor="middle" textLength="31.78" lengthAdjust="spacingAndGlyphs" fill="#000">140</text>
<text x="1493.83" y="560" font-family="Liberation Sans" font-size="17.67" text-anchor="middle" textLength="31.78" lengthAdjust="spacingAndGlyphs" fill="#000">160</text>
<text x="1569.5" y="560" font-family="Liberation Sans" font-size="17.67" text-anchor="middle" textLength="31.78" lengthAdjust="spacingAndGlyphs" fill="#000">180</text>
<text x="1645.17" y="560" font-family="Liberation Sans" font-size="17.67" text-anchor="middle" textLength="31.78" lengthAdjust="spacingAndGlyphs" fill="#000">200</text>
<text x="1219.7" y="543.2" font-family="Liberation Sans" font-size="17.67" text-anchor="end" textLength="35.14" lengthAdjust="spacingAndGlyphs" fill="#000">−60</text>
<text x="1219.7" y="467.53" font-family="Liberation Sans" font-size="17.67" text-anchor="end" textLength="35.14" lengthAdjust="spacingAndGlyphs" fill="#000">−40</text>
<text x="1219.7" y="391.87" font-family="Liberation Sans" font-size="17.67" text-anchor="end" textLength="35.14" lengthAdjust="spacingAndGlyphs" fill="#000">−20</text>
<text x="1219.7" y="316.2" font-family="Liberation Sans" font-size="17.67" text-anchor="end" textLength="10.59" lengthAdjust="spacingAndGlyphs" fill="#000">0</text>
<text x="1219.7" y="240.53" font-family="Liberation Sans" font-size="17.67" text-anchor="end" textLength="21.19" lengthAdjust="spacingAndGlyphs" fill="#000">20</text>
<text x="1219.7" y="164.87" font-family="Liberation Sans" font-size="17.67" text-anchor="end" textLength="21.19" lengthAdjust="spacingAndGlyphs" fill="#000">40</text>
<text x="1219.7" y="89.2" font-family="Liberation Sans" font-size="17.67" text-anchor="end" textLength="21.19" lengthAdjust="spacingAndGlyphs" fill="#000">60</text>
<text x="1456" y="74" font-family="Liberation Sans" font-size="24.73" text-anchor="middle" textLength="364.69" lengthAdjust="spacingAndGlyphs" fill="#000">Hodogram(V3_V1 MVAB frame)</text>
<text x="1456" y="590" font-family="Liberation Sans" font-size="17.67" text-anchor="middle" textLength="75.12" lengthAdjust="spacingAndGlyphs" fill="#000">V3(km/s)</text>
<text x="1170.2" y="313.7" font-family="Liberation Sans" font-size="17.67" text-anchor="middle" textLength="75.12" lengthAdjust="spacingAndGlyphs" fill="#000" transform="rotate(-90 1170.2 313.7)">V1(km/s)</text>
<text x="1262.3" y="515.6" font-family="Liberation Serif" font-size="19.29" font-style="italic" text-anchor="start" textLength="11" lengthAdjust="spacingAndGlyphs" fill="#222">λ</text>
<text x="1271.2" y="518.5" font-family="Liberation Serif" font-size="13.57" text-anchor="start" textLength="6.5" lengthAdjust="spacingAndGlyphs" fill="#000">1</text>
<line x1="1287" y1="503.1" x2="1280.2" y2="520.8" stroke="#111" stroke-width="1.1"/>
<text x="1289.9" y="515.6" font-family="Liberation Serif" font-size="19.29" font-style="italic" text-anchor="start" textLength="11" lengthAdjust="spacingAndGlyphs" fill="#222">λ</text>
<text x="1299" y="518.5" font-family="Liberation Serif" font-size="13.57" text-anchor="start" textLength="6.5" lengthAdjust="spacingAndGlyphs" fill="#000">3</text>
<text x="1310.8" y="515.6" font-family="Liberation Sans" font-size="19.08" text-anchor="start" textLength="15.2" lengthAdjust="spacingAndGlyphs" fill="#222">≈</text>
<text x="1331.8" y="515.6" font-family="Liberation Sans" font-size="19.43" text-anchor="start" textLength="64.21" lengthAdjust="spacingAndGlyphs" fill="#000">371.49</text>
<clipPath id="c4"><rect x="117" y="662" width="454" height="454"/></clipPath>
<g clip-path="url(#c4)">
<circle cx="116.8" cy="1057.7" r="5.4" fill="#008000"/>
<circle cx="196.5" cy="995.3" r="5.4" fill="#008000"/>
<circle cx="243.2" cy="995.1" r="5.4" fill="#008000"/>
<circle cx="242.8" cy="988.7" r="5.4" fill="#008000"/>
<circle cx="250.9" cy="978" r="5.4" fill="#008000"/>
<circle cx="257.3" cy="972.9" r="5.4" fill="#008000"/>
<circle cx="257.7" cy="983.6" r="5.4" fill="#008000"/>
<circle cx="264.6" cy="979.3" r="5.4" fill="#008000"/>
<circle cx="269.7" cy="970.7" r="5.4" fill="#008000"/>
<circle cx="273.1" cy="974.2" r="5.4" fill="#008000"/>
<circle cx="251.7" cy="984.4" r="5.4" fill="#008000"/>
<circle cx="262" cy="975.9" r="5.4" fill="#008000"/>
<circle cx="265.4" cy="982.7" r="5.4" fill="#008000"/>
<circle cx="247" cy="986" r="5.4" fill="#008000"/>
<circle cx="254" cy="981" r="5.4" fill="#008000"/>
<circle cx="260" cy="978" r="5.4" fill="#008000"/>
<circle cx="244.5" cy="992" r="5.4" fill="#008000"/>
<circle cx="265.3" cy="940.3" r="5.4" fill="#ff0000"/>
<circle cx="306.4" cy="932.4" r="5.4" fill="#ff0000"/>
<circle cx="324.5" cy="946.3" r="5.4" fill="#ff0000"/>
<circle cx="328.5" cy="934" r="5.4" fill="#ff0000"/>
<circle cx="333.6" cy="942.9" r="5.4" fill="#ff0000"/>
<circle cx="337.4" cy="941.2" r="5.4" fill="#ff0000"/>
<circle cx="339.6" cy="935.1" r="5.4" fill="#ff0000"/>
<circle cx="348.5" cy="928.1" r="5.4" fill="#ff0000"/>
<circle cx="355.6" cy="924.7" r="5.4" fill="#ff0000"/>
<circle cx="358.4" cy="909.3" r="5.4" fill="#ff0000"/>
<circle cx="367.5" cy="911" r="5.4" fill="#ff0000"/>
<circle cx="370.4" cy="905.9" r="5.4" fill="#ff0000"/>
<circle cx="375.5" cy="897.9" r="5.4" fill="#ff0000"/>
<circle cx="377.8" cy="908.7" r="5.4" fill="#ff0000"/>
<circle cx="379.5" cy="904.2" r="5.4" fill="#ff0000"/>
<circle cx="381.2" cy="899" r="5.4" fill="#ff0000"/>
<circle cx="381.2" cy="888.2" r="5.4" fill="#ff0000"/>
<circle cx="389.2" cy="888.2" r="5.4" fill="#ff0000"/>
<circle cx="334.5" cy="938.3" r="5.4" fill="#ff0000"/>
<circle cx="372.1" cy="903" r="5.4" fill="#ff0000"/>
<circle cx="549.5" cy="780.8" r="5.4" fill="#0000ff"/>
<circle cx="556.4" cy="780.5" r="5.4" fill="#0000ff"/>
<circle cx="543.9" cy="789.3" r="5.4" fill="#0000ff"/>
<circle cx="559.9" cy="786.8" r="5.4" fill="#0000ff"/>
<circle cx="554.2" cy="789.6" r="5.4" fill="#0000ff"/>
<circle cx="546.2" cy="798.2" r="5.4" fill="#0000ff"/>
<circle cx="544.5" cy="804.7" r="5.4" fill="#0000ff"/>
<circle cx="553.6" cy="804.4" r="5.4" fill="#0000ff"/>
<circle cx="544.5" cy="813" r="5.4" fill="#0000ff"/>
<circle cx="555.6" cy="810.7" r="5.4" fill="#0000ff"/>
<circle cx="570.1" cy="801.6" r="5.4" fill="#0000ff"/>
<circle cx="549.6" cy="794.2" r="5.4" fill="#0000ff"/>
<circle cx="550.8" cy="783.9" r="5.4" fill="#0000ff"/>
<polyline points="117,1062.81 571,784.96" fill="none" stroke="#000" stroke-width="1.9" stroke-linejoin="round" stroke-linecap="butt" stroke-dasharray="13.5 13"/>
</g>
<line x1="162.5" y1="1116" x2="162.5" y2="1108" stroke="#000" stroke-width="1" stroke-linecap="butt"/>
<line x1="162.5" y1="662" x2="162.5" y2="670" stroke="#000" stroke-width="1" stroke-linecap="butt"/>
<line x1="247.5" y1="1116" x2="247.5" y2="1108" stroke="#000" stroke-width="1" stroke-linecap="butt"/>
<line x1="247.5" y1="662" x2="247.5" y2="670" stroke="#000" stroke-width="1" stroke-linecap="butt"/>
<line x1="332.5" y1="1116" x2="332.5" y2="1108" stroke="#000" stroke-width="1" stroke-linecap="butt"/>
<line x1="332.5" y1="662" x2="332.5" y2="670" stroke="#000" stroke-width="1" stroke-linecap="butt"/>
<line x1="417.5" y1="1116" x2="417.5" y2="1108" stroke="#000" stroke-width="1" stroke-linecap="butt"/>
<line x1="417.5" y1="662" x2="417.5" y2="670" stroke="#000" stroke-width="1" stroke-linecap="butt"/>
<line x1="502.5" y1="1116" x2="502.5" y2="1108" stroke="#000" stroke-width="1" stroke-linecap="butt"/>
<line x1="502.5" y1="662" x2="502.5" y2="670" stroke="#000" stroke-width="1" stroke-linecap="butt"/>
<line x1="117" y1="1071.5" x2="125" y2="1071.5" stroke="#000" stroke-width="1" stroke-linecap="butt"/>
<line x1="571" y1="1071.5" x2="563" y2="1071.5" stroke="#000" stroke-width="1" stroke-linecap="butt"/>
<line x1="117" y1="986.5" x2="125" y2="986.5" stroke="#000" stroke-width="1" stroke-linecap="butt"/>
<line x1="571" y1="986.5" x2="563" y2="986.5" stroke="#000" stroke-width="1" stroke-linecap="butt"/>
<line x1="117" y1="901.5" x2="125" y2="901.5" stroke="#000" stroke-width="1" stroke-linecap="butt"/>
<line x1="571" y1="901.5" x2="563" y2="901.5" stroke="#000" stroke-width="1" stroke-linecap="butt"/>
<line x1="117" y1="816.5" x2="125" y2="816.5" stroke="#000" stroke-width="1" stroke-linecap="butt"/>
<line x1="571" y1="816.5" x2="563" y2="816.5" stroke="#000" stroke-width="1" stroke-linecap="butt"/>
<line x1="117" y1="731.5" x2="125" y2="731.5" stroke="#000" stroke-width="1" stroke-linecap="butt"/>
<line x1="571" y1="731.5" x2="563" y2="731.5" stroke="#000" stroke-width="1" stroke-linecap="butt"/>
<rect x="117" y="662" width="454" height="454" fill="none" stroke="#000" stroke-width="2"/>
<rect x="125" y="668.7" width="137.8" height="71.9" fill="#fff" stroke="#000" stroke-width="2"/>
<text x="127.6" y="687.2" font-family="Liberation Sans" font-size="19.43" text-anchor="start" textLength="131" lengthAdjust="spacingAndGlyphs" fill="#000">slope = 0.612</text>
<text x="128.3" y="709" font-family="Liberation Serif" font-size="19.61" font-style="italic" text-anchor="start" textLength="8.2" lengthAdjust="spacingAndGlyphs" fill="#222">r</text>
<text x="143.3" y="709" font-family="Liberation Sans" font-size="19.43" text-anchor="start" textLength="74.2" lengthAdjust="spacingAndGlyphs" fill="#000">= 0.993</text>
<text x="129" y="730.8" font-family="Liberation Serif" font-size="19.61" font-style="italic" text-anchor="start" textLength="20" lengthAdjust="spacingAndGlyphs" fill="#222">M</text>
<text x="146.5" y="734.2" font-family="Liberation Serif" font-size="13.78" font-style="italic" text-anchor="start" textLength="10.6" lengthAdjust="spacingAndGlyphs" fill="#333">A</text>
<text x="164.4" y="730.8" font-family="Liberation Sans" font-size="19.43" text-anchor="start" textLength="74.4" lengthAdjust="spacingAndGlyphs" fill="#000">= 0.623</text>
<text x="162.06" y="1138" font-family="Liberation Sans" font-size="17.67" text-anchor="middle" textLength="35.14" lengthAdjust="spacingAndGlyphs" fill="#000">−50</text>
<text x="247.08" y="1138" font-family="Liberation Sans" font-size="17.67" text-anchor="middle" textLength="10.59" lengthAdjust="spacingAndGlyphs" fill="#000">0</text>
<text x="332.1" y="1138" font-family="Liberation Sans" font-size="17.67" text-anchor="middle" textLength="21.19" lengthAdjust="spacingAndGlyphs" fill="#000">50</text>
<text x="417.12" y="1138" font-family="Liberation Sans" font-size="17.67" text-anchor="middle" textLength="31.78" lengthAdjust="spacingAndGlyphs" fill="#000">100</text>
<text x="502.13" y="1138" font-family="Liberation Sans" font-size="17.67" text-anchor="middle" textLength="31.78" lengthAdjust="spacingAndGlyphs" fill="#000">150</text>
<text x="107.7" y="1076.14" font-family="Liberation Sans" font-size="17.67" text-anchor="end" textLength="35.14" lengthAdjust="spacingAndGlyphs" fill="#000">−50</text>
<text x="107.7" y="991.12" font-family="Liberation Sans" font-size="17.67" text-anchor="end" textLength="10.59" lengthAdjust="spacingAndGlyphs" fill="#000">0</text>
<text x="107.7" y="906.1" font-family="Liberation Sans" font-size="17.67" text-anchor="end" textLength="21.19" lengthAdjust="spacingAndGlyphs" fill="#000">50</text>
<text x="107.7" y="821.08" font-family="Liberation Sans" font-size="17.67" text-anchor="end" textLength="31.78" lengthAdjust="spacingAndGlyphs" fill="#000">100</text>
<text x="107.7" y="736.07" font-family="Liberation Sans" font-size="17.67" text-anchor="end" textLength="31.78" lengthAdjust="spacingAndGlyphs" fill="#000">150</text>
<text x="344" y="652" font-family="Liberation Sans" font-size="24.73" text-anchor="middle" textLength="117.54" lengthAdjust="spacingAndGlyphs" fill="#000">WalenTest</text>
<text x="306.3" y="1167.8" font-family="Liberation Sans" font-size="17.67" text-anchor="start" textLength="12" lengthAdjust="spacingAndGlyphs" fill="#000">V</text>
<text x="319.6" y="1170.2" font-family="Liberation Serif" font-size="13.25" font-style="italic" text-anchor="start" textLength="7.6" lengthAdjust="spacingAndGlyphs" fill="#000">A</text>
<text x="327.6" y="1167.8" font-family="Liberation Sans" font-size="17.67" text-anchor="start" textLength="53.8" lengthAdjust="spacingAndGlyphs" fill="#000">(km/s)</text>
<g transform="rotate(-90 54.8 949.9)">
<text x="54.8" y="949.9" font-family="Liberation Sans" font-size="17.67" text-anchor="start" textLength="12.4" lengthAdjust="spacingAndGlyphs" fill="#000">V</text>
<text x="68.4" y="952.8" font-family="Liberation Serif" font-size="12.93" font-style="italic" text-anchor="start" textLength="52.7" lengthAdjust="spacingAndGlyphs" fill="#444">remaining</text>
<text x="120.2" y="949.9" font-family="Liberation Sans" font-size="17.67" text-anchor="start" textLength="53.8" lengthAdjust="spacingAndGlyphs" fill="#000">(km/s)</text>
</g>
<clipPath id="c5"><rect x="673" y="662" width="454" height="454"/></clipPath>
<line x1="673.5" y1="1116" x2="673.5" y2="662" stroke="#000" stroke-width="1" stroke-dasharray="2.2 6.1"/>
<line x1="749.5" y1="1116" x2="749.5" y2="662" stroke="#000" stroke-width="1" stroke-dasharray="2.2 6.1"/>
<line x1="824.5" y1="1116" x2="824.5" y2="662" stroke="#000" stroke-width="1" stroke-dasharray="2.2 6.1"/>
<line x1="900.5" y1="1116" x2="900.5" y2="662" stroke="#000" stroke-width="1" stroke-dasharray="2.2 6.1"/>
<line x1="976.5" y1="1116" x2="976.5" y2="662" stroke="#000" stroke-width="1" stroke-dasharray="2.2 6.1"/>
<line x1="1051.5" y1="1116" x2="1051.5" y2="662" stroke="#000" stroke-width="1" stroke-dasharray="2.2 6.1"/>
<line x1="1127.5" y1="1116" x2="1127.5" y2="662" stroke="#000" stroke-width="1" stroke-dasharray="2.2 6.1"/>
<line x1="673" y1="1116.5" x2="1127" y2="1116.5" stroke="#000" stroke-width="1" stroke-dasharray="2.2 6.1"/>
<line x1="673" y1="1040.5" x2="1127" y2="1040.5" stroke="#000" stroke-width="1" stroke-dasharray="2.2 6.1"/>
<line x1="673" y1="965.5" x2="1127" y2="965.5" stroke="#000" stroke-width="1" stroke-dasharray="2.2 6.1"/>
<line x1="673" y1="889.5" x2="1127" y2="889.5" stroke="#000" stroke-width="1" stroke-dasharray="2.2 6.1"/>
<line x1="673" y1="813.5" x2="1127" y2="813.5" stroke="#000" stroke-width="1" stroke-dasharray="2.2 6.1"/>
<line x1="673" y1="738.5" x2="1127" y2="738.5" stroke="#000" stroke-width="1" stroke-dasharray="2.2 6.1"/>
<line x1="673" y1="662.5" x2="1127" y2="662.5" stroke="#000" stroke-width="1" stroke-dasharray="2.2 6.1"/>
<g clip-path="url(#c5)">
<polyline points="749.82,1110.75 978.11,942.09 1046.74,955.71 1027.6,927.1 1016.25,1000.05 996.19,947.61 1030.62,967.81 1027.6,927.1 1021.62,891.84 984.62,787.8 978.79,781.82 972.51,777.06 973.34,767.6 969.41,748.68 855.38,761.77 890.49,730.29 949.51,805.13 937.25,761.32 925.52,776 980.38,816.97" fill="none" stroke="#0000ff" stroke-width="2.1" stroke-linejoin="round" stroke-linecap="butt"/>
<circle cx="749.82" cy="1110.75" r="3.6" fill="#0000ff"/>
<circle cx="978.11" cy="942.09" r="3.6" fill="#0000ff"/>
<circle cx="1046.74" cy="955.71" r="3.6" fill="#0000ff"/>
<circle cx="1027.6" cy="927.1" r="3.6" fill="#0000ff"/>
<circle cx="1016.25" cy="1000.05" r="3.6" fill="#0000ff"/>
<circle cx="996.19" cy="947.61" r="3.6" fill="#0000ff"/>
<circle cx="1030.62" cy="967.81" r="3.6" fill="#0000ff"/>
<circle cx="1027.6" cy="927.1" r="3.6" fill="#0000ff"/>
<circle cx="1021.62" cy="891.84" r="3.6" fill="#0000ff"/>
<circle cx="984.62" cy="787.8" r="3.6" fill="#0000ff"/>
<circle cx="978.79" cy="781.82" r="3.6" fill="#0000ff"/>
<circle cx="972.51" cy="777.06" r="3.6" fill="#0000ff"/>
<circle cx="973.34" cy="767.6" r="3.6" fill="#0000ff"/>
<circle cx="969.41" cy="748.68" r="3.6" fill="#0000ff"/>
<circle cx="855.38" cy="761.77" r="3.6" fill="#0000ff"/>
<circle cx="890.49" cy="730.29" r="3.6" fill="#0000ff"/>
<circle cx="949.51" cy="805.13" r="3.6" fill="#0000ff"/>
<circle cx="937.25" cy="761.32" r="3.6" fill="#0000ff"/>
<circle cx="925.52" cy="776" r="3.6" fill="#0000ff"/>
<circle cx="980.38" cy="816.97" r="3.6" fill="#0000ff"/>
<polyline points="1018.59,868.61 1021.62,891.84" fill="none" stroke="#0000ff" stroke-width="2.1" stroke-linejoin="round" stroke-linecap="butt"/>
<circle cx="1018.59" cy="868.61" r="3.6" fill="#0000ff"/>
<circle cx="1021.62" cy="891.84" r="3.6" fill="#0000ff"/>
</g>
<line x1="673.5" y1="1116" x2="673.5" y2="1108" stroke="#000" stroke-width="1" stroke-linecap="butt"/>
<line x1="673.5" y1="662" x2="673.5" y2="670" stroke="#000" stroke-width="1" stroke-linecap="butt"/>
<line x1="749.5" y1="1116" x2="749.5" y2="1108" stroke="#000" stroke-width="1" stroke-linecap="butt"/>
<line x1="749.5" y1="662" x2="749.5" y2="670" stroke="#000" stroke-width="1" stroke-linecap="butt"/>
<line x1="824.5" y1="1116" x2="824.5" y2="1108" stroke="#000" stroke-width="1" stroke-linecap="butt"/>
<line x1="824.5" y1="662" x2="824.5" y2="670" stroke="#000" stroke-width="1" stroke-linecap="butt"/>
<line x1="900.5" y1="1116" x2="900.5" y2="1108" stroke="#000" stroke-width="1" stroke-linecap="butt"/>
<line x1="900.5" y1="662" x2="900.5" y2="670" stroke="#000" stroke-width="1" stroke-linecap="butt"/>
<line x1="976.5" y1="1116" x2="976.5" y2="1108" stroke="#000" stroke-width="1" stroke-linecap="butt"/>
<line x1="976.5" y1="662" x2="976.5" y2="670" stroke="#000" stroke-width="1" stroke-linecap="butt"/>
<line x1="1051.5" y1="1116" x2="1051.5" y2="1108" stroke="#000" stroke-width="1" stroke-linecap="butt"/>
<line x1="1051.5" y1="662" x2="1051.5" y2="670" stroke="#000" stroke-width="1" stroke-linecap="butt"/>
<line x1="1127.5" y1="1116" x2="1127.5" y2="1108" stroke="#000" stroke-width="1" stroke-linecap="butt"/>
<line x1="1127.5" y1="662" x2="1127.5" y2="670" stroke="#000" stroke-width="1" stroke-linecap="butt"/>
<line x1="673" y1="1116.5" x2="681" y2="1116.5" stroke="#000" stroke-width="1" stroke-linecap="butt"/>
<line x1="1127" y1="1116.5" x2="1119" y2="1116.5" stroke="#000" stroke-width="1" stroke-linecap="butt"/>
<line x1="673" y1="1040.5" x2="681" y2="1040.5" stroke="#000" stroke-width="1" stroke-linecap="butt"/>
<line x1="1127" y1="1040.5" x2="1119" y2="1040.5" stroke="#000" stroke-width="1" stroke-linecap="butt"/>
<line x1="673" y1="965.5" x2="681" y2="965.5" stroke="#000" stroke-width="1" stroke-linecap="butt"/>
<line x1="1127" y1="965.5" x2="1119" y2="965.5" stroke="#000" stroke-width="1" stroke-linecap="butt"/>
<line x1="673" y1="889.5" x2="681" y2="889.5" stroke="#000" stroke-width="1" stroke-linecap="butt"/>
<line x1="1127" y1="889.5" x2="1119" y2="889.5" stroke="#000" stroke-width="1" stroke-linecap="butt"/>
<line x1="673" y1="813.5" x2="681" y2="813.5" stroke="#000" stroke-width="1" stroke-linecap="butt"/>
<line x1="1127" y1="813.5" x2="1119" y2="813.5" stroke="#000" stroke-width="1" stroke-linecap="butt"/>
<line x1="673" y1="738.5" x2="681" y2="738.5" stroke="#000" stroke-width="1" stroke-linecap="butt"/>
<line x1="1127" y1="738.5" x2="1119" y2="738.5" stroke="#000" stroke-width="1" stroke-linecap="butt"/>
<line x1="673" y1="662.5" x2="681" y2="662.5" stroke="#000" stroke-width="1" stroke-linecap="butt"/>
<line x1="1127" y1="662.5" x2="1119" y2="662.5" stroke="#000" stroke-width="1" stroke-linecap="butt"/>
<rect x="673" y="662" width="454" height="454" fill="none" stroke="#000" stroke-width="2"/>
<text x="673" y="1138" font-family="Liberation Sans" font-size="17.67" text-anchor="middle" textLength="35.14" lengthAdjust="spacingAndGlyphs" fill="#000">−10</text>
<text x="748.67" y="1138" font-family="Liberation Sans" font-size="17.67" text-anchor="middle" textLength="10.59" lengthAdjust="spacingAndGlyphs" fill="#000">0</text>
<text x="824.33" y="1138" font-family="Liberation Sans" font-size="17.67" text-anchor="middle" textLength="21.19" lengthAdjust="spacingAndGlyphs" fill="#000">10</text>
<text x="900" y="1138" font-family="Liberation Sans" font-size="17.67" text-anchor="middle" textLength="21.19" lengthAdjust="spacingAndGlyphs" fill="#000">20</text>
<text x="975.67" y="1138" font-family="Liberation Sans" font-size="17.67" text-anchor="middle" textLength="21.19" lengthAdjust="spacingAndGlyphs" fill="#000">30</text>
<text x="1051.33" y="1138" font-family="Liberation Sans" font-size="17.67" text-anchor="middle" textLength="21.19" lengthAdjust="spacingAndGlyphs" fill="#000">40</text>
<text x="1127" y="1138" font-family="Liberation Sans" font-size="17.67" text-anchor="middle" textLength="21.19" lengthAdjust="spacingAndGlyphs" fill="#000">50</text>
<text x="663.7" y="1121.2" font-family="Liberation Sans" font-size="17.67" text-anchor="end" textLength="35.14" lengthAdjust="spacingAndGlyphs" fill="#000">−40</text>
<text x="663.7" y="1045.53" font-family="Liberation Sans" font-size="17.67" text-anchor="end" textLength="35.14" lengthAdjust="spacingAndGlyphs" fill="#000">−30</text>
<text x="663.7" y="969.87" font-family="Liberation Sans" font-size="17.67" text-anchor="end" textLength="35.14" lengthAdjust="spacingAndGlyphs" fill="#000">−20</text>
<text x="663.7" y="894.2" font-family="Liberation Sans" font-size="17.67" text-anchor="end" textLength="35.14" lengthAdjust="spacingAndGlyphs" fill="#000">−10</text>
<text x="663.7" y="818.53" font-family="Liberation Sans" font-size="17.67" text-anchor="end" textLength="10.59" lengthAdjust="spacingAndGlyphs" fill="#000">0</text>
<text x="663.7" y="742.87" font-family="Liberation Sans" font-size="17.67" text-anchor="end" textLength="21.19" lengthAdjust="spacingAndGlyphs" fill="#000">10</text>
<text x="663.7" y="667.2" font-family="Liberation Sans" font-size="17.67" text-anchor="end" textLength="21.19" lengthAdjust="spacingAndGlyphs" fill="#000">20</text>
<text x="677.9" y="650.1" font-family="Liberation Sans" font-size="24.73" text-anchor="start" textLength="281" lengthAdjust="spacingAndGlyphs" fill="#000">Hodogram (V2_V1 MVAV</text>
<text x="960.3" y="653.1" font-family="Liberation Serif" font-size="15.48" font-style="italic" text-anchor="start" textLength="77.5" lengthAdjust="spacingAndGlyphs" fill="#333">remaining</text>
<text x="1045.3" y="650.1" font-family="Liberation Sans" font-size="24.73" text-anchor="start" textLength="76.2" lengthAdjust="spacingAndGlyphs" fill="#000">frame)</text>
<text x="900" y="1168" font-family="Liberation Sans" font-size="17.67" text-anchor="middle" textLength="75.12" lengthAdjust="spacingAndGlyphs" fill="#000">V2(km/s)</text>
<text x="614.2" y="891.7" font-family="Liberation Sans" font-size="17.67" text-anchor="middle" textLength="75.12" lengthAdjust="spacingAndGlyphs" fill="#000" transform="rotate(-90 614.2 891.7)">V1(km/s)</text>
<text x="685.9" y="1091.6" font-family="Liberation Serif" font-size="19.29" font-style="italic" text-anchor="start" textLength="11" lengthAdjust="spacingAndGlyphs" fill="#222">λ</text>
<text x="694.8" y="1094.5" font-family="Liberation Serif" font-size="13.57" text-anchor="start" textLength="6.5" lengthAdjust="spacingAndGlyphs" fill="#000">1</text>
<line x1="710.6" y1="1079.1" x2="703.8" y2="1096.8" stroke="#111" stroke-width="1.1"/>
<text x="713.5" y="1091.6" font-family="Liberation Serif" font-size="19.29" font-style="italic" text-anchor="start" textLength="11" lengthAdjust="spacingAndGlyphs" fill="#222">λ</text>
<text x="722.6" y="1094.5" font-family="Liberation Serif" font-size="13.57" text-anchor="start" textLength="6.5" lengthAdjust="spacingAndGlyphs" fill="#000">2</text>
<text x="734.4" y="1091.6" font-family="Liberation Sans" font-size="19.08" text-anchor="start" textLength="15.2" lengthAdjust="spacingAndGlyphs" fill="#222">≈</text>
<text x="755.4" y="1091.6" font-family="Liberation Sans" font-size="19.43" text-anchor="start" textLength="40.86" lengthAdjust="spacingAndGlyphs" fill="#000">2.27</text>
<clipPath id="c6"><rect x="1229" y="662" width="454" height="454"/></clipPath>
<line x1="1267.5" y1="1116" x2="1267.5" y2="662" stroke="#000" stroke-width="1" stroke-dasharray="2.2 6.1"/>
<line x1="1343.5" y1="1116" x2="1343.5" y2="662" stroke="#000" stroke-width="1" stroke-dasharray="2.2 6.1"/>
<line x1="1418.5" y1="1116" x2="1418.5" y2="662" stroke="#000" stroke-width="1" stroke-dasharray="2.2 6.1"/>
<line x1="1494.5" y1="1116" x2="1494.5" y2="662" stroke="#000" stroke-width="1" stroke-dasharray="2.2 6.1"/>
<line x1="1570.5" y1="1116" x2="1570.5" y2="662" stroke="#000" stroke-width="1" stroke-dasharray="2.2 6.1"/>
<line x1="1645.5" y1="1116" x2="1645.5" y2="662" stroke="#000" stroke-width="1" stroke-dasharray="2.2 6.1"/>
<line x1="1229" y1="1116.5" x2="1683" y2="1116.5" stroke="#000" stroke-width="1" stroke-dasharray="2.2 6.1"/>
<line x1="1229" y1="1040.5" x2="1683" y2="1040.5" stroke="#000" stroke-width="1" stroke-dasharray="2.2 6.1"/>
<line x1="1229" y1="965.5" x2="1683" y2="965.5" stroke="#000" stroke-width="1" stroke-dasharray="2.2 6.1"/>
<line x1="1229" y1="889.5" x2="1683" y2="889.5" stroke="#000" stroke-width="1" stroke-dasharray="2.2 6.1"/>
<line x1="1229" y1="813.5" x2="1683" y2="813.5" stroke="#000" stroke-width="1" stroke-dasharray="2.2 6.1"/>
<line x1="1229" y1="738.5" x2="1683" y2="738.5" stroke="#000" stroke-width="1" stroke-dasharray="2.2 6.1"/>
<line x1="1229" y1="662.5" x2="1683" y2="662.5" stroke="#000" stroke-width="1" stroke-dasharray="2.2 6.1"/>
<g clip-path="url(#c6)">
<polyline points="1440.43,1110.75 1458.75,942.09 1458.14,955.71 1453.52,927.1 1456.4,1000.05 1462.15,947.61 1450.35,967.81 1453.52,927.1 1455.49,891.84 1442.02,787.8 1440.96,781.82 1441.34,777.06 1438.54,767.6 1448.38,748.68 1474.26,761.77 1460.26,730.29 1445.2,805.13 1447.32,761.32 1466.09,776 1455.34,816.97" fill="none" stroke="#0000ff" stroke-width="2.1" stroke-linejoin="round" stroke-linecap="butt"/>
<circle cx="1440.43" cy="1110.75" r="3.6" fill="#0000ff"/>
<circle cx="1458.75" cy="942.09" r="3.6" fill="#0000ff"/>
<circle cx="1458.14" cy="955.71" r="3.6" fill="#0000ff"/>
<circle cx="1453.52" cy="927.1" r="3.6" fill="#0000ff"/>
<circle cx="1456.4" cy="1000.05" r="3.6" fill="#0000ff"/>
<circle cx="1462.15" cy="947.61" r="3.6" fill="#0000ff"/>
<circle cx="1450.35" cy="967.81" r="3.6" fill="#0000ff"/>
<circle cx="1453.52" cy="927.1" r="3.6" fill="#0000ff"/>
<circle cx="1455.49" cy="891.84" r="3.6" fill="#0000ff"/>
<circle cx="1442.02" cy="787.8" r="3.6" fill="#0000ff"/>
<circle cx="1440.96" cy="781.82" r="3.6" fill="#0000ff"/>
<circle cx="1441.34" cy="777.06" r="3.6" fill="#0000ff"/>
<circle cx="1438.54" cy="767.6" r="3.6" fill="#0000ff"/>
<circle cx="1448.38" cy="748.68" r="3.6" fill="#0000ff"/>
<circle cx="1474.26" cy="761.77" r="3.6" fill="#0000ff"/>
<circle cx="1460.26" cy="730.29" r="3.6" fill="#0000ff"/>
<circle cx="1445.2" cy="805.13" r="3.6" fill="#0000ff"/>
<circle cx="1447.32" cy="761.32" r="3.6" fill="#0000ff"/>
<circle cx="1466.09" cy="776" r="3.6" fill="#0000ff"/>
<circle cx="1455.34" cy="816.97" r="3.6" fill="#0000ff"/>
<polyline points="1456.4,868.61 1455.49,891.84" fill="none" stroke="#0000ff" stroke-width="2.1" stroke-linejoin="round" stroke-linecap="butt"/>
<circle cx="1456.4" cy="868.61" r="3.6" fill="#0000ff"/>
<circle cx="1455.49" cy="891.84" r="3.6" fill="#0000ff"/>
</g>
<line x1="1267.5" y1="1116" x2="1267.5" y2="1108" stroke="#000" stroke-width="1" stroke-linecap="butt"/>
<line x1="1267.5" y1="662" x2="1267.5" y2="670" stroke="#000" stroke-width="1" stroke-linecap="butt"/>
<line x1="1343.5" y1="1116" x2="1343.5" y2="1108" stroke="#000" stroke-width="1" stroke-linecap="butt"/>
<line x1="1343.5" y1="662" x2="1343.5" y2="670" stroke="#000" stroke-width="1" stroke-linecap="butt"/>
<line x1="1418.5" y1="1116" x2="1418.5" y2="1108" stroke="#000" stroke-width="1" stroke-linecap="butt"/>
<line x1="1418.5" y1="662" x2="1418.5" y2="670" stroke="#000" stroke-width="1" stroke-linecap="butt"/>
<line x1="1494.5" y1="1116" x2="1494.5" y2="1108" stroke="#000" stroke-width="1" stroke-linecap="butt"/>
<line x1="1494.5" y1="662" x2="1494.5" y2="670" stroke="#000" stroke-width="1" stroke-linecap="butt"/>
<line x1="1570.5" y1="1116" x2="1570.5" y2="1108" stroke="#000" stroke-width="1" stroke-linecap="butt"/>
<line x1="1570.5" y1="662" x2="1570.5" y2="670" stroke="#000" stroke-width="1" stroke-linecap="butt"/>
<line x1="1645.5" y1="1116" x2="1645.5" y2="1108" stroke="#000" stroke-width="1" stroke-linecap="butt"/>
<line x1="1645.5" y1="662" x2="1645.5" y2="670" stroke="#000" stroke-width="1" stroke-linecap="butt"/>
<line x1="1229" y1="1116.5" x2="1237" y2="1116.5" stroke="#000" stroke-width="1" stroke-linecap="butt"/>
<line x1="1683" y1="1116.5" x2="1675" y2="1116.5" stroke="#000" stroke-width="1" stroke-linecap="butt"/>
<line x1="1229" y1="1040.5" x2="1237" y2="1040.5" stroke="#000" stroke-width="1" stroke-linecap="butt"/>
<line x1="1683" y1="1040.5" x2="1675" y2="1040.5" stroke="#000" stroke-width="1" stroke-linecap="butt"/>
<line x1="1229" y1="965.5" x2="1237" y2="965.5" stroke="#000" stroke-width="1" stroke-linecap="butt"/>
<line x1="1683" y1="965.5" x2="1675" y2="965.5" stroke="#000" stroke-width="1" stroke-linecap="butt"/>
<line x1="1229" y1="889.5" x2="1237" y2="889.5" stroke="#000" stroke-width="1" stroke-linecap="butt"/>
<line x1="1683" y1="889.5" x2="1675" y2="889.5" stroke="#000" stroke-width="1" stroke-linecap="butt"/>
<line x1="1229" y1="813.5" x2="1237" y2="813.5" stroke="#000" stroke-width="1" stroke-linecap="butt"/>
<line x1="1683" y1="813.5" x2="1675" y2="813.5" stroke="#000" stroke-width="1" stroke-linecap="butt"/>
<line x1="1229" y1="738.5" x2="1237" y2="738.5" stroke="#000" stroke-width="1" stroke-linecap="butt"/>
<line x1="1683" y1="738.5" x2="1675" y2="738.5" stroke="#000" stroke-width="1" stroke-linecap="butt"/>
<line x1="1229" y1="662.5" x2="1237" y2="662.5" stroke="#000" stroke-width="1" stroke-linecap="butt"/>
<line x1="1683" y1="662.5" x2="1675" y2="662.5" stroke="#000" stroke-width="1" stroke-linecap="butt"/>
<rect x="1229" y="662" width="454" height="454" fill="none" stroke="#000" stroke-width="2"/>
<text x="1266.83" y="1138" font-family="Liberation Sans" font-size="17.67" text-anchor="middle" textLength="21.19" lengthAdjust="spacingAndGlyphs" fill="#000">90</text>
<text x="1342.5" y="1138" font-family="Liberation Sans" font-size="17.67" text-anchor="middle" textLength="31.78" lengthAdjust="spacingAndGlyphs" fill="#000">100</text>
<text x="1418.17" y="1138" font-family="Liberation Sans" font-size="17.67" text-anchor="middle" textLength="31.78" lengthAdjust="spacingAndGlyphs" fill="#000">110</text>
<text x="1493.83" y="1138" font-family="Liberation Sans" font-size="17.67" text-anchor="middle" textLength="31.78" lengthAdjust="spacingAndGlyphs" fill="#000">120</text>
<text x="1569.5" y="1138" font-family="Liberation Sans" font-size="17.67" text-anchor="middle" textLength="31.78" lengthAdjust="spacingAndGlyphs" fill="#000">130</text>
<text x="1645.17" y="1138" font-family="Liberation Sans" font-size="17.67" text-anchor="middle" textLength="31.78" lengthAdjust="spacingAndGlyphs" fill="#000">140</text>
<text x="1219.7" y="1121.2" font-family="Liberation Sans" font-size="17.67" text-anchor="end" textLength="35.14" lengthAdjust="spacingAndGlyphs" fill="#000">−40</text>
<text x="1219.7" y="1045.53" font-family="Liberation Sans" font-size="17.67" text-anchor="end" textLength="35.14" lengthAdjust="spacingAndGlyphs" fill="#000">−30</text>
<text x="1219.7" y="969.87" font-family="Liberation Sans" font-size="17.67" text-anchor="end" textLength="35.14" lengthAdjust="spacingAndGlyphs" fill="#000">−20</text>
<text x="1219.7" y="894.2" font-family="Liberation Sans" font-size="17.67" text-anchor="end" textLength="35.14" lengthAdjust="spacingAndGlyphs" fill="#000">−10</text>
<text x="1219.7" y="818.53" font-family="Liberation Sans" font-size="17.67" text-anchor="end" textLength="10.59" lengthAdjust="spacingAndGlyphs" fill="#000">0</text>
<text x="1219.7" y="742.87" font-family="Liberation Sans" font-size="17.67" text-anchor="end" textLength="21.19" lengthAdjust="spacingAndGlyphs" fill="#000">10</text>
<text x="1219.7" y="667.2" font-family="Liberation Sans" font-size="17.67" text-anchor="end" textLength="21.19" lengthAdjust="spacingAndGlyphs" fill="#000">20</text>
<text x="1233.9" y="650.1" font-family="Liberation Sans" font-size="24.73" text-anchor="start" textLength="281" lengthAdjust="spacingAndGlyphs" fill="#000">Hodogram (V3_V1 MVAV</text>
<text x="1516.3" y="653.1" font-family="Liberation Serif" font-size="15.48" font-style="italic" text-anchor="start" textLength="77.5" lengthAdjust="spacingAndGlyphs" fill="#333">remaining</text>
<text x="1601.3" y="650.1" font-family="Liberation Sans" font-size="24.73" text-anchor="start" textLength="76.2" lengthAdjust="spacingAndGlyphs" fill="#000">frame)</text>
<text x="1456" y="1168" font-family="Liberation Sans" font-size="17.67" text-anchor="middle" textLength="75.12" lengthAdjust="spacingAndGlyphs" fill="#000">V3(km/s)</text>
<text x="1170.2" y="891.7" font-family="Liberation Sans" font-size="17.67" text-anchor="middle" textLength="75.12" lengthAdjust="spacingAndGlyphs" fill="#000" transform="rotate(-90 1170.2 891.7)">V1(km/s)</text>
<text x="1262.3" y="1091.6" font-family="Liberation Serif" font-size="19.29" font-style="italic" text-anchor="start" textLength="11" lengthAdjust="spacingAndGlyphs" fill="#222">λ</text>
<text x="1271.2" y="1094.5" font-family="Liberation Serif" font-size="13.57" text-anchor="start" textLength="6.5" lengthAdjust="spacingAndGlyphs" fill="#000">1</text>
<line x1="1287" y1="1079.1" x2="1280.2" y2="1096.8" stroke="#111" stroke-width="1.1"/>
<text x="1289.9" y="1091.6" font-family="Liberation Serif" font-size="19.29" font-style="italic" text-anchor="start" textLength="11" lengthAdjust="spacingAndGlyphs" fill="#222">λ</text>
<text x="1299" y="1094.5" font-family="Liberation Serif" font-size="13.57" text-anchor="start" textLength="6.5" lengthAdjust="spacingAndGlyphs" fill="#000">3</text>
<text x="1310.8" y="1091.6" font-family="Liberation Sans" font-size="19.08" text-anchor="start" textLength="15.2" lengthAdjust="spacingAndGlyphs" fill="#222">≈</text>
<text x="1331.8" y="1091.6" font-family="Liberation Sans" font-size="19.43" text-anchor="start" textLength="64.21" lengthAdjust="spacingAndGlyphs" fill="#000">122.05</text>
<clipPath id="c7"><rect x="117" y="1305" width="1566" height="222"/></clipPath>
<g clip-path="url(#c7)">
<line x1="117" y1="1349.4" x2="1683" y2="1349.4" stroke="#000" stroke-width="1.5" stroke-dasharray="12.8 12.4" stroke-dashoffset="23.8"/>
<polyline points="117,1494.2 199.42,1504.6 281.84,1513.1 364.26,1513.1 446.68,1511.5 529.11,1512.3 611.53,1512.7 693.95,1514.2 776.37,1513.8 858.79,1513.5 941.21,1515 1023.63,1515 1106.05,1515 1188.47,1515 1270.89,1516.5 1353.32,1516.2 1435.74,1515.4 1518.16,1515.4 1600.58,1515.8 1683,1515.8" fill="none" stroke="#ff0000" stroke-width="2.1" stroke-linejoin="round" stroke-linecap="butt"/>
<polyline points="117,1429.6 199.42,1393.5 281.84,1365 364.26,1365.8 446.68,1373.1 529.11,1372.7 611.53,1368.8 693.95,1355.8 776.37,1360 858.79,1354.6 941.21,1341.9 1023.63,1346.5 1106.05,1341.2 1188.47,1344.2 1270.89,1351.2 1353.32,1342.3 1435.74,1345.4 1518.16,1343.8 1600.58,1347.7 1683,1351.9" fill="none" stroke="#008000" stroke-width="2.1" stroke-linejoin="round" stroke-linecap="butt"/>
<polyline points="117,1348.8 199.42,1365.4 281.84,1381.9 364.26,1380.8 446.68,1382.7 529.11,1380.4 611.53,1379.6 693.95,1378.8 776.37,1380.4 858.79,1377.7 941.21,1378.1 1023.63,1378.8 1106.05,1377.3 1188.47,1377.3 1270.89,1366.2 1353.32,1368.1 1435.74,1373.1 1518.16,1374.6 1600.58,1373.1 1683,1373.1" fill="none" stroke="#0000ff" stroke-width="2.1" stroke-linejoin="round" stroke-linecap="butt"/>
</g>
<line x1="199.5" y1="1527" x2="199.5" y2="1519" stroke="#000" stroke-width="1" stroke-linecap="butt"/>
<line x1="199.5" y1="1305" x2="199.5" y2="1313" stroke="#000" stroke-width="1" stroke-linecap="butt"/>
<line x1="612.5" y1="1527" x2="612.5" y2="1519" stroke="#000" stroke-width="1" stroke-linecap="butt"/>
<line x1="612.5" y1="1305" x2="612.5" y2="1313" stroke="#000" stroke-width="1" stroke-linecap="butt"/>
<line x1="1024.5" y1="1527" x2="1024.5" y2="1519" stroke="#000" stroke-width="1" stroke-linecap="butt"/>
<line x1="1024.5" y1="1305" x2="1024.5" y2="1313" stroke="#000" stroke-width="1" stroke-linecap="butt"/>
<line x1="1436.5" y1="1527" x2="1436.5" y2="1519" stroke="#000" stroke-width="1" stroke-linecap="butt"/>
<line x1="1436.5" y1="1305" x2="1436.5" y2="1313" stroke="#000" stroke-width="1" stroke-linecap="butt"/>
<line x1="117" y1="1527.5" x2="125" y2="1527.5" stroke="#000" stroke-width="1" stroke-linecap="butt"/>
<line x1="1683" y1="1527.5" x2="1675" y2="1527.5" stroke="#000" stroke-width="1" stroke-linecap="butt"/>
<line x1="117" y1="1483.5" x2="125" y2="1483.5" stroke="#000" stroke-width="1" stroke-linecap="butt"/>
<line x1="1683" y1="1483.5" x2="1675" y2="1483.5" stroke="#000" stroke-width="1" stroke-linecap="butt"/>
<line x1="117" y1="1438.5" x2="125" y2="1438.5" stroke="#000" stroke-width="1" stroke-linecap="butt"/>
<line x1="1683" y1="1438.5" x2="1675" y2="1438.5" stroke="#000" stroke-width="1" stroke-linecap="butt"/>
<line x1="117" y1="1394.5" x2="125" y2="1394.5" stroke="#000" stroke-width="1" stroke-linecap="butt"/>
<line x1="1683" y1="1394.5" x2="1675" y2="1394.5" stroke="#000" stroke-width="1" stroke-linecap="butt"/>
<line x1="117" y1="1349.5" x2="125" y2="1349.5" stroke="#000" stroke-width="1" stroke-linecap="butt"/>
<line x1="1683" y1="1349.5" x2="1675" y2="1349.5" stroke="#000" stroke-width="1" stroke-linecap="butt"/>
<line x1="117" y1="1305.5" x2="125" y2="1305.5" stroke="#000" stroke-width="1" stroke-linecap="butt"/>
<line x1="1683" y1="1305.5" x2="1675" y2="1305.5" stroke="#000" stroke-width="1" stroke-linecap="butt"/>
<rect x="117" y="1305" width="1566" height="222" fill="none" stroke="#000" stroke-width="2"/>
<text x="199.42" y="1549.9" font-family="Liberation Sans" font-size="17.67" text-anchor="middle" textLength="128.05" lengthAdjust="spacingAndGlyphs" fill="#000">12/27 06:05:54</text>
<text x="611.53" y="1549.9" font-family="Liberation Sans" font-size="17.67" text-anchor="middle" textLength="128.05" lengthAdjust="spacingAndGlyphs" fill="#000">12/27 06:05:59</text>
<text x="1023.63" y="1549.9" font-family="Liberation Sans" font-size="17.67" text-anchor="middle" textLength="128.05" lengthAdjust="spacingAndGlyphs" fill="#000">12/27 06:06:04</text>
<text x="1435.74" y="1549.9" font-family="Liberation Sans" font-size="17.67" text-anchor="middle" textLength="128.05" lengthAdjust="spacingAndGlyphs" fill="#000">12/27 06:06:09</text>
<text x="107.7" y="1532.2" font-family="Liberation Sans" font-size="17.67" text-anchor="end" textLength="45.73" lengthAdjust="spacingAndGlyphs" fill="#000">−200</text>
<text x="107.7" y="1487.8" font-family="Liberation Sans" font-size="17.67" text-anchor="end" textLength="45.73" lengthAdjust="spacingAndGlyphs" fill="#000">−150</text>
<text x="107.7" y="1443.4" font-family="Liberation Sans" font-size="17.67" text-anchor="end" textLength="45.73" lengthAdjust="spacingAndGlyphs" fill="#000">−100</text>
<text x="107.7" y="1399" font-family="Liberation Sans" font-size="17.67" text-anchor="end" textLength="35.14" lengthAdjust="spacingAndGlyphs" fill="#000">−50</text>
<text x="107.7" y="1354.6" font-family="Liberation Sans" font-size="17.67" text-anchor="end" textLength="10.59" lengthAdjust="spacingAndGlyphs" fill="#000">0</text>
<text x="107.7" y="1310.2" font-family="Liberation Sans" font-size="17.67" text-anchor="end" textLength="21.19" lengthAdjust="spacingAndGlyphs" fill="#000">50</text>
<text x="900" y="1295" font-family="Liberation Sans" font-size="24.73" text-anchor="middle" textLength="320.31" lengthAdjust="spacingAndGlyphs" fill="#000">Magnetic Field (RTN Frame)</text>
<text x="49.2" y="1418.7" font-family="Liberation Sans" font-size="17.67" text-anchor="middle" textLength="45.14" lengthAdjust="spacingAndGlyphs" fill="#000" transform="rotate(-90 49.2 1418.7)">B(nT)</text>
<rect x="1603.9" y="1312" width="72" height="71.8" fill="#fff" stroke="#000" stroke-width="2"/>
<line x1="1612.9" y1="1324.9" x2="1636.1" y2="1324.9" stroke="#ff0000" stroke-width="1.8" stroke-linecap="butt"/>
<text x="1650.4" y="1329.9" font-family="Liberation Sans" font-size="15.9" text-anchor="start" textLength="16.46" lengthAdjust="spacingAndGlyphs" fill="#000">Br</text>
<line x1="1612.9" y1="1347.3" x2="1636.1" y2="1347.3" stroke="#008000" stroke-width="1.8" stroke-linecap="butt"/>
<text x="1650.4" y="1352.3" font-family="Liberation Sans" font-size="15.9" text-anchor="start" textLength="16.17" lengthAdjust="spacingAndGlyphs" fill="#000">Bt</text>
<line x1="1612.9" y1="1369.7" x2="1636.1" y2="1369.7" stroke="#0000ff" stroke-width="1.8" stroke-linecap="butt"/>
<text x="1650.4" y="1374.7" font-family="Liberation Sans" font-size="15.9" text-anchor="start" textLength="19.8" lengthAdjust="spacingAndGlyphs" fill="#000">Bn</text>
<clipPath id="c8"><rect x="117" y="1639" width="1566" height="222"/></clipPath>
<g clip-path="url(#c8)">
<line x1="117" y1="1787" x2="1683" y2="1787" stroke="#000" stroke-width="1.5" stroke-dasharray="12.8 12.4" stroke-dashoffset="23.8"/>
<polyline points="117,1779.2 199.42,1760.7 281.84,1747.2 364.26,1747.2 446.68,1752.6 529.11,1751.1 611.53,1748.8 693.95,1739.5 776.37,1742.6 858.79,1738.8 941.21,1730.7 1023.63,1733.8 1106.05,1729.9 1188.47,1731.5 1270.89,1730.3 1353.32,1726.1 1435.74,1730.3 1518.16,1729.9 1600.58,1731.8 1683,1734.5" fill="none" stroke="#ff0000" stroke-width="2.1" stroke-linejoin="round" stroke-linecap="butt"/>
<polyline points="117,1837.6 199.42,1808.8 281.84,1784.9 364.26,1785.7 446.68,1788.4 529.11,1789.5 611.53,1787.6 693.95,1782.2 776.37,1783.4 858.79,1782.2 941.21,1775.7 1023.63,1777.6 1106.05,1775.7 1188.47,1777.2 1270.89,1788.4 1353.32,1783 1435.74,1781.1 1518.16,1779.5 1600.58,1782.6 1683,1784.9" fill="none" stroke="#008000" stroke-width="2.1" stroke-linejoin="round" stroke-linecap="butt"/>
<polyline points="117,1657.6 199.42,1654.9 281.84,1652.2 364.26,1652.2 446.68,1651.1 529.11,1651.8 611.53,1652.2 693.95,1654.5 776.37,1653.4 858.79,1655.7 941.21,1658.4 1023.63,1656.8 1106.05,1658.8 1188.47,1657.2 1270.89,1657.6 1353.32,1659.9 1435.74,1658.4 1518.16,1658.4 1600.58,1657.2 1683,1656.8" fill="none" stroke="#0000ff" stroke-width="2.1" stroke-linejoin="round" stroke-linecap="butt"/>
<polyline points="117,1647.2 199.42,1651.1 281.84,1646.1 364.26,1646.1 446.68,1646.1 529.11,1646.1 611.53,1646.1 693.95,1646.1 776.37,1646.5 858.79,1647.2 941.21,1645.7 1023.63,1645.7 1106.05,1646.1 1188.47,1646 1270.89,1646 1353.32,1646 1435.74,1646 1518.16,1646 1600.58,1646 1683,1646" fill="none" stroke="#000000" stroke-width="2.1" stroke-linejoin="round" stroke-linecap="butt"/>
</g>
<line x1="199.5" y1="1861" x2="199.5" y2="1853" stroke="#000" stroke-width="1" stroke-linecap="butt"/>
<line x1="199.5" y1="1639" x2="199.5" y2="1647" stroke="#000" stroke-width="1" stroke-linecap="butt"/>
<line x1="612.5" y1="1861" x2="612.5" y2="1853" stroke="#000" stroke-width="1" stroke-linecap="butt"/>
<line x1="612.5" y1="1639" x2="612.5" y2="1647" stroke="#000" stroke-width="1" stroke-linecap="butt"/>
<line x1="1024.5" y1="1861" x2="1024.5" y2="1853" stroke="#000" stroke-width="1" stroke-linecap="butt"/>
<line x1="1024.5" y1="1639" x2="1024.5" y2="1647" stroke="#000" stroke-width="1" stroke-linecap="butt"/>
<line x1="1436.5" y1="1861" x2="1436.5" y2="1853" stroke="#000" stroke-width="1" stroke-linecap="butt"/>
<line x1="1436.5" y1="1639" x2="1436.5" y2="1647" stroke="#000" stroke-width="1" stroke-linecap="butt"/>
<line x1="117" y1="1861.5" x2="125" y2="1861.5" stroke="#000" stroke-width="1" stroke-linecap="butt"/>
<line x1="1683" y1="1861.5" x2="1675" y2="1861.5" stroke="#000" stroke-width="1" stroke-linecap="butt"/>
<line x1="117" y1="1824.5" x2="125" y2="1824.5" stroke="#000" stroke-width="1" stroke-linecap="butt"/>
<line x1="1683" y1="1824.5" x2="1675" y2="1824.5" stroke="#000" stroke-width="1" stroke-linecap="butt"/>
<line x1="117" y1="1787.5" x2="125" y2="1787.5" stroke="#000" stroke-width="1" stroke-linecap="butt"/>
<line x1="1683" y1="1787.5" x2="1675" y2="1787.5" stroke="#000" stroke-width="1" stroke-linecap="butt"/>
<line x1="117" y1="1750.5" x2="125" y2="1750.5" stroke="#000" stroke-width="1" stroke-linecap="butt"/>
<line x1="1683" y1="1750.5" x2="1675" y2="1750.5" stroke="#000" stroke-width="1" stroke-linecap="butt"/>
<line x1="117" y1="1713.5" x2="125" y2="1713.5" stroke="#000" stroke-width="1" stroke-linecap="butt"/>
<line x1="1683" y1="1713.5" x2="1675" y2="1713.5" stroke="#000" stroke-width="1" stroke-linecap="butt"/>
<line x1="117" y1="1676.5" x2="125" y2="1676.5" stroke="#000" stroke-width="1" stroke-linecap="butt"/>
<line x1="1683" y1="1676.5" x2="1675" y2="1676.5" stroke="#000" stroke-width="1" stroke-linecap="butt"/>
<line x1="117" y1="1639.5" x2="125" y2="1639.5" stroke="#000" stroke-width="1" stroke-linecap="butt"/>
<line x1="1683" y1="1639.5" x2="1675" y2="1639.5" stroke="#000" stroke-width="1" stroke-linecap="butt"/>
<rect x="117" y="1639" width="1566" height="222" fill="none" stroke="#000" stroke-width="2"/>
<text x="199.42" y="1883.9" font-family="Liberation Sans" font-size="17.67" text-anchor="middle" textLength="128.05" lengthAdjust="spacingAndGlyphs" fill="#000">12/27 06:05:54</text>
<text x="611.53" y="1883.9" font-family="Liberation Sans" font-size="17.67" text-anchor="middle" textLength="128.05" lengthAdjust="spacingAndGlyphs" fill="#000">12/27 06:05:59</text>
<text x="1023.63" y="1883.9" font-family="Liberation Sans" font-size="17.67" text-anchor="middle" textLength="128.05" lengthAdjust="spacingAndGlyphs" fill="#000">12/27 06:06:04</text>
<text x="1435.74" y="1883.9" font-family="Liberation Sans" font-size="17.67" text-anchor="middle" textLength="128.05" lengthAdjust="spacingAndGlyphs" fill="#000">12/27 06:06:09</text>
<text x="107.7" y="1866.2" font-family="Liberation Sans" font-size="17.67" text-anchor="end" textLength="45.73" lengthAdjust="spacingAndGlyphs" fill="#000">−100</text>
<text x="107.7" y="1829.2" font-family="Liberation Sans" font-size="17.67" text-anchor="end" textLength="35.14" lengthAdjust="spacingAndGlyphs" fill="#000">−50</text>
<text x="107.7" y="1792.2" font-family="Liberation Sans" font-size="17.67" text-anchor="end" textLength="10.59" lengthAdjust="spacingAndGlyphs" fill="#000">0</text>
<text x="107.7" y="1755.2" font-family="Liberation Sans" font-size="17.67" text-anchor="end" textLength="21.19" lengthAdjust="spacingAndGlyphs" fill="#000">50</text>
<text x="107.7" y="1718.2" font-family="Liberation Sans" font-size="17.67" text-anchor="end" textLength="31.78" lengthAdjust="spacingAndGlyphs" fill="#000">100</text>
<text x="107.7" y="1681.2" font-family="Liberation Sans" font-size="17.67" text-anchor="end" textLength="31.78" lengthAdjust="spacingAndGlyphs" fill="#000">150</text>
<text x="107.7" y="1644.2" font-family="Liberation Sans" font-size="17.67" text-anchor="end" textLength="31.78" lengthAdjust="spacingAndGlyphs" fill="#000">200</text>
<text x="900" y="1629" font-family="Liberation Sans" font-size="24.73" text-anchor="middle" textLength="388.66" lengthAdjust="spacingAndGlyphs" fill="#000">Magnetic Field (Flux Rope Frame)</text>
<text x="49.2" y="1752.7" font-family="Liberation Sans" font-size="17.67" text-anchor="middle" textLength="45.14" lengthAdjust="spacingAndGlyphs" fill="#000" transform="rotate(-90 49.2 1752.7)">B(nT)</text>
<rect x="1601.2" y="1645.3" width="74.6" height="94.2" fill="#fff" stroke="#000" stroke-width="2"/>
<line x1="1610.2" y1="1658.2" x2="1633.4" y2="1658.2" stroke="#ff0000" stroke-width="1.8" stroke-linecap="butt"/>
<text x="1647.7" y="1663.2" font-family="Liberation Sans" font-size="15.9" text-anchor="start" textLength="23.29" lengthAdjust="spacingAndGlyphs" fill="#000">Bx'</text>
<line x1="1610.2" y1="1680.6" x2="1633.4" y2="1680.6" stroke="#008000" stroke-width="1.8" stroke-linecap="butt"/>
<text x="1647.7" y="1685.6" font-family="Liberation Sans" font-size="15.9" text-anchor="start" textLength="23.29" lengthAdjust="spacingAndGlyphs" fill="#000">By'</text>
<line x1="1610.2" y1="1703" x2="1633.4" y2="1703" stroke="#0000ff" stroke-width="1.8" stroke-linecap="butt"/>
<text x="1647.7" y="1708" font-family="Liberation Sans" font-size="15.9" text-anchor="start" textLength="22.29" lengthAdjust="spacingAndGlyphs" fill="#000">Bz'</text>
<line x1="1610.2" y1="1725.4" x2="1633.4" y2="1725.4" stroke="#000000" stroke-width="1.8" stroke-linecap="butt"/>
<text x="1647.7" y="1730.4" font-family="Liberation Sans" font-size="15.9" text-anchor="start" textLength="20.4" lengthAdjust="spacingAndGlyphs" fill="#000">|B|</text>
<clipPath id="c9"><rect x="117" y="1972" width="1566" height="222"/></clipPath>
<g clip-path="url(#c9)">
<polyline points="117,1985.8 199.42,1988.2 281.84,1988.9 364.26,1988.2 446.68,1988.2 529.11,1988.5 611.53,1987.8 693.95,1988.5 776.37,1988.5 858.79,1987.4 941.21,1987.4 1023.63,1987.4 1106.05,1987 1188.47,1987.8 1270.89,1988.9 1353.32,1987.8 1435.74,1987 1518.16,1987.4 1600.58,1988.5 1683,1988.2" fill="none" stroke="#ff0000" stroke-width="2.1" stroke-linejoin="round" stroke-linecap="butt"/>
<polyline points="117,2178.2 199.42,2166.6 281.84,2167.4 364.26,2165.5 446.68,2170.5 529.11,2167 611.53,2168.2 693.95,2161.6 776.37,2163.2 858.79,2156.6 941.21,2156.2 1023.63,2155.5 1106.05,2154.7 1188.47,2153.9 1270.89,2155.1 1353.32,2152.8 1435.74,2157.8 1518.16,2154.7 1600.58,2155.8 1683,2158.5" fill="none" stroke="#008000" stroke-width="2.1" stroke-linejoin="round" stroke-linecap="butt"/>
<polyline points="117,2123.5 199.42,2137.8 281.84,2142 364.26,2140.8 446.68,2140.1 529.11,2138.9 611.53,2140.8 693.95,2140.1 776.37,2140.1 858.79,2137.8 941.21,2137.8 1023.63,2137.4 1106.05,2137 1188.47,2137 1270.89,2129.3 1353.32,2131.6 1435.74,2135.5 1518.16,2134.3 1600.58,2133.9 1683,2137.4" fill="none" stroke="#0000ff" stroke-width="2.1" stroke-linejoin="round" stroke-linecap="butt"/>
</g>
<line x1="199.5" y1="2194" x2="199.5" y2="2186" stroke="#000" stroke-width="1" stroke-linecap="butt"/>
<line x1="199.5" y1="1972" x2="199.5" y2="1980" stroke="#000" stroke-width="1" stroke-linecap="butt"/>
<line x1="612.5" y1="2194" x2="612.5" y2="2186" stroke="#000" stroke-width="1" stroke-linecap="butt"/>
<line x1="612.5" y1="1972" x2="612.5" y2="1980" stroke="#000" stroke-width="1" stroke-linecap="butt"/>
<line x1="1024.5" y1="2194" x2="1024.5" y2="2186" stroke="#000" stroke-width="1" stroke-linecap="butt"/>
<line x1="1024.5" y1="1972" x2="1024.5" y2="1980" stroke="#000" stroke-width="1" stroke-linecap="butt"/>
<line x1="1436.5" y1="2194" x2="1436.5" y2="2186" stroke="#000" stroke-width="1" stroke-linecap="butt"/>
<line x1="1436.5" y1="1972" x2="1436.5" y2="1980" stroke="#000" stroke-width="1" stroke-linecap="butt"/>
<line x1="117" y1="2194.5" x2="125" y2="2194.5" stroke="#000" stroke-width="1" stroke-linecap="butt"/>
<line x1="1683" y1="2194.5" x2="1675" y2="2194.5" stroke="#000" stroke-width="1" stroke-linecap="butt"/>
<line x1="117" y1="2169.5" x2="125" y2="2169.5" stroke="#000" stroke-width="1" stroke-linecap="butt"/>
<line x1="1683" y1="2169.5" x2="1675" y2="2169.5" stroke="#000" stroke-width="1" stroke-linecap="butt"/>
<line x1="117" y1="2145.5" x2="125" y2="2145.5" stroke="#000" stroke-width="1" stroke-linecap="butt"/>
<line x1="1683" y1="2145.5" x2="1675" y2="2145.5" stroke="#000" stroke-width="1" stroke-linecap="butt"/>
<line x1="117" y1="2120.5" x2="125" y2="2120.5" stroke="#000" stroke-width="1" stroke-linecap="butt"/>
<line x1="1683" y1="2120.5" x2="1675" y2="2120.5" stroke="#000" stroke-width="1" stroke-linecap="butt"/>
<line x1="117" y1="2095.5" x2="125" y2="2095.5" stroke="#000" stroke-width="1" stroke-linecap="butt"/>
<line x1="1683" y1="2095.5" x2="1675" y2="2095.5" stroke="#000" stroke-width="1" stroke-linecap="butt"/>
<line x1="117" y1="2071.5" x2="125" y2="2071.5" stroke="#000" stroke-width="1" stroke-linecap="butt"/>
<line x1="1683" y1="2071.5" x2="1675" y2="2071.5" stroke="#000" stroke-width="1" stroke-linecap="butt"/>
<line x1="117" y1="2046.5" x2="125" y2="2046.5" stroke="#000" stroke-width="1" stroke-linecap="butt"/>
<line x1="1683" y1="2046.5" x2="1675" y2="2046.5" stroke="#000" stroke-width="1" stroke-linecap="butt"/>
<line x1="117" y1="2021.5" x2="125" y2="2021.5" stroke="#000" stroke-width="1" stroke-linecap="butt"/>
<line x1="1683" y1="2021.5" x2="1675" y2="2021.5" stroke="#000" stroke-width="1" stroke-linecap="butt"/>
<line x1="117" y1="1997.5" x2="125" y2="1997.5" stroke="#000" stroke-width="1" stroke-linecap="butt"/>
<line x1="1683" y1="1997.5" x2="1675" y2="1997.5" stroke="#000" stroke-width="1" stroke-linecap="butt"/>
<line x1="117" y1="1972.5" x2="125" y2="1972.5" stroke="#000" stroke-width="1" stroke-linecap="butt"/>
<line x1="1683" y1="1972.5" x2="1675" y2="1972.5" stroke="#000" stroke-width="1" stroke-linecap="butt"/>
<rect x="117" y="1972" width="1566" height="222" fill="none" stroke="#000" stroke-width="2"/>
<text x="199.42" y="2216.9" font-family="Liberation Sans" font-size="17.67" text-anchor="middle" textLength="128.05" lengthAdjust="spacingAndGlyphs" fill="#000">12/27 06:05:54</text>
<text x="611.53" y="2216.9" font-family="Liberation Sans" font-size="17.67" text-anchor="middle" textLength="128.05" lengthAdjust="spacingAndGlyphs" fill="#000">12/27 06:05:59</text>
<text x="1023.63" y="2216.9" font-family="Liberation Sans" font-size="17.67" text-anchor="middle" textLength="128.05" lengthAdjust="spacingAndGlyphs" fill="#000">12/27 06:06:04</text>
<text x="1435.74" y="2216.9" font-family="Liberation Sans" font-size="17.67" text-anchor="middle" textLength="128.05" lengthAdjust="spacingAndGlyphs" fill="#000">12/27 06:06:09</text>
<text x="107.7" y="2199.2" font-family="Liberation Sans" font-size="17.67" text-anchor="end" textLength="45.73" lengthAdjust="spacingAndGlyphs" fill="#000">−150</text>
<text x="107.7" y="2174.53" font-family="Liberation Sans" font-size="17.67" text-anchor="end" textLength="45.73" lengthAdjust="spacingAndGlyphs" fill="#000">−100</text>
<text x="107.7" y="2149.87" font-family="Liberation Sans" font-size="17.67" text-anchor="end" textLength="35.14" lengthAdjust="spacingAndGlyphs" fill="#000">−50</text>
<text x="107.7" y="2125.2" font-family="Liberation Sans" font-size="17.67" text-anchor="end" textLength="10.59" lengthAdjust="spacingAndGlyphs" fill="#000">0</text>
<text x="107.7" y="2100.53" font-family="Liberation Sans" font-size="17.67" text-anchor="end" textLength="21.19" lengthAdjust="spacingAndGlyphs" fill="#000">50</text>
<text x="107.7" y="2075.87" font-family="Liberation Sans" font-size="17.67" text-anchor="end" textLength="31.78" lengthAdjust="spacingAndGlyphs" fill="#000">100</text>
<text x="107.7" y="2051.2" font-family="Liberation Sans" font-size="17.67" text-anchor="end" textLength="31.78" lengthAdjust="spacingAndGlyphs" fill="#000">150</text>
<text x="107.7" y="2026.53" font-family="Liberation Sans" font-size="17.67" text-anchor="end" textLength="31.78" lengthAdjust="spacingAndGlyphs" fill="#000">200</text>
<text x="107.7" y="2001.87" font-family="Liberation Sans" font-size="17.67" text-anchor="end" textLength="31.78" lengthAdjust="spacingAndGlyphs" fill="#000">250</text>
<text x="107.7" y="1977.2" font-family="Liberation Sans" font-size="17.67" text-anchor="end" textLength="31.78" lengthAdjust="spacingAndGlyphs" fill="#000">300</text>
<text x="900" y="1962" font-family="Liberation Sans" font-size="24.73" text-anchor="middle" textLength="376.7" lengthAdjust="spacingAndGlyphs" fill="#000">Solar Wind Velocity (RTN Frame)</text>
<text x="47.8" y="2085.7" font-family="Liberation Sans" font-size="17.67" text-anchor="middle" textLength="86.82" lengthAdjust="spacingAndGlyphs" fill="#000" transform="rotate(-90 47.8 2085.7)">Vsw(km/s)</text>
<rect x="1603.5" y="1978.5" width="72.7" height="71.8" fill="#fff" stroke="#000" stroke-width="2"/>
<line x1="1612.5" y1="1991.4" x2="1635.7" y2="1991.4" stroke="#ff0000" stroke-width="1.8" stroke-linecap="butt"/>
<text x="1650" y="1996.4" font-family="Liberation Sans" font-size="15.9" text-anchor="start" textLength="16.43" lengthAdjust="spacingAndGlyphs" fill="#000">Vr</text>
<line x1="1612.5" y1="2013.8" x2="1635.7" y2="2013.8" stroke="#008000" stroke-width="1.8" stroke-linecap="butt"/>
<text x="1650" y="2018.8" font-family="Liberation Sans" font-size="15.9" text-anchor="start" textLength="16.14" lengthAdjust="spacingAndGlyphs" fill="#000">Vt</text>
<line x1="1612.5" y1="2036.2" x2="1635.7" y2="2036.2" stroke="#0000ff" stroke-width="1.8" stroke-linecap="butt"/>
<text x="1650" y="2041.2" font-family="Liberation Sans" font-size="15.9" text-anchor="start" textLength="19.77" lengthAdjust="spacingAndGlyphs" fill="#000">Vn</text>
<clipPath id="c10"><rect x="117" y="2306" width="1566" height="222"/></clipPath>
<g clip-path="url(#c10)">
<polyline points="117,2397.9 199.42,2326 281.84,2396.4 364.26,2438.7 446.68,2414.5 529.11,2423.7 611.53,2408.7 693.95,2401 776.37,2405.6 858.79,2431.4 941.21,2446 1023.63,2452.5 1106.05,2460.2 1188.47,2477.9 1270.89,2506 1353.32,2469.8 1435.74,2451.8 1518.16,2472.9 1600.58,2451.8 1683,2423.3" fill="none" stroke="#0000ff" stroke-width="2.1" stroke-linejoin="round" stroke-linecap="butt"/>
</g>
<line x1="199.5" y1="2528" x2="199.5" y2="2520" stroke="#000" stroke-width="1" stroke-linecap="butt"/>
<line x1="199.5" y1="2306" x2="199.5" y2="2314" stroke="#000" stroke-width="1" stroke-linecap="butt"/>
<line x1="612.5" y1="2528" x2="612.5" y2="2520" stroke="#000" stroke-width="1" stroke-linecap="butt"/>
<line x1="612.5" y1="2306" x2="612.5" y2="2314" stroke="#000" stroke-width="1" stroke-linecap="butt"/>
<line x1="1024.5" y1="2528" x2="1024.5" y2="2520" stroke="#000" stroke-width="1" stroke-linecap="butt"/>
<line x1="1024.5" y1="2306" x2="1024.5" y2="2314" stroke="#000" stroke-width="1" stroke-linecap="butt"/>
<line x1="1436.5" y1="2528" x2="1436.5" y2="2520" stroke="#000" stroke-width="1" stroke-linecap="butt"/>
<line x1="1436.5" y1="2306" x2="1436.5" y2="2314" stroke="#000" stroke-width="1" stroke-linecap="butt"/>
<line x1="117" y1="2503.5" x2="125" y2="2503.5" stroke="#000" stroke-width="1" stroke-linecap="butt"/>
<line x1="1683" y1="2503.5" x2="1675" y2="2503.5" stroke="#000" stroke-width="1" stroke-linecap="butt"/>
<line x1="117" y1="2441.5" x2="125" y2="2441.5" stroke="#000" stroke-width="1" stroke-linecap="butt"/>
<line x1="1683" y1="2441.5" x2="1675" y2="2441.5" stroke="#000" stroke-width="1" stroke-linecap="butt"/>
<line x1="117" y1="2380.5" x2="125" y2="2380.5" stroke="#000" stroke-width="1" stroke-linecap="butt"/>
<line x1="1683" y1="2380.5" x2="1675" y2="2380.5" stroke="#000" stroke-width="1" stroke-linecap="butt"/>
<line x1="117" y1="2318.5" x2="125" y2="2318.5" stroke="#000" stroke-width="1" stroke-linecap="butt"/>
<line x1="1683" y1="2318.5" x2="1675" y2="2318.5" stroke="#000" stroke-width="1" stroke-linecap="butt"/>
<rect x="117" y="2306" width="1566" height="222" fill="none" stroke="#000" stroke-width="2"/>
<text x="199.42" y="2550.9" font-family="Liberation Sans" font-size="17.67" text-anchor="middle" textLength="128.05" lengthAdjust="spacingAndGlyphs" fill="#000">12/27 06:05:54</text>
<text x="611.53" y="2550.9" font-family="Liberation Sans" font-size="17.67" text-anchor="middle" textLength="128.05" lengthAdjust="spacingAndGlyphs" fill="#000">12/27 06:05:59</text>
<text x="1023.63" y="2550.9" font-family="Liberation Sans" font-size="17.67" text-anchor="middle" textLength="128.05" lengthAdjust="spacingAndGlyphs" fill="#000">12/27 06:06:04</text>
<text x="1435.74" y="2550.9" font-family="Liberation Sans" font-size="17.67" text-anchor="middle" textLength="128.05" lengthAdjust="spacingAndGlyphs" fill="#000">12/27 06:06:09</text>
<text x="107.7" y="2508.1" font-family="Liberation Sans" font-size="17.67" text-anchor="end" textLength="47.66" lengthAdjust="spacingAndGlyphs" fill="#000">0.040</text>
<text x="107.7" y="2446.57" font-family="Liberation Sans" font-size="17.67" text-anchor="end" textLength="47.66" lengthAdjust="spacingAndGlyphs" fill="#000">0.045</text>
<text x="107.7" y="2385.04" font-family="Liberation Sans" font-size="17.67" text-anchor="end" textLength="47.66" lengthAdjust="spacingAndGlyphs" fill="#000">0.050</text>
<text x="107.7" y="2323.51" font-family="Liberation Sans" font-size="17.67" text-anchor="end" textLength="47.66" lengthAdjust="spacingAndGlyphs" fill="#000">0.055</text>
<text x="900" y="2296" font-family="Liberation Sans" font-size="24.73" text-anchor="middle" textLength="145.37" lengthAdjust="spacingAndGlyphs" fill="#000">Plasma Beta</text>
<g transform="rotate(-90 41.4 2417)" fill="#333">
<text x="33" y="2417" font-family="Liberation Serif" font-size="18.55" font-style="italic" text-anchor="start" textLength="10.5" lengthAdjust="spacingAndGlyphs" fill="#555">β</text>
<text x="43.5" y="2420.5" font-family="Liberation Serif" font-size="13.25" font-style="italic" text-anchor="start" textLength="6.4" lengthAdjust="spacingAndGlyphs" fill="#555">p</text>
</g>
<clipPath id="c11"><rect x="117" y="2639" width="1566" height="222"/></clipPath>
<g clip-path="url(#c11)">
<polyline points="117,2835.8 199.42,2663.1 281.84,2653.1 364.26,2710 446.68,2674.6 529.11,2689.2 611.53,2666.9 693.95,2685.8 776.37,2696.5 858.79,2697.7 941.21,2710.8 1023.63,2725 1106.05,2713.1 1188.47,2739.2 1270.89,2757.7 1353.32,2726.9 1435.74,2705 1518.16,2727.3 1600.58,2720.8 1683,2691.5" fill="none" stroke="#0000ff" stroke-width="2.1" stroke-linejoin="round" stroke-linecap="butt"/>
</g>
<line x1="199.5" y1="2861" x2="199.5" y2="2853" stroke="#000" stroke-width="1" stroke-linecap="butt"/>
<line x1="199.5" y1="2639" x2="199.5" y2="2647" stroke="#000" stroke-width="1" stroke-linecap="butt"/>
<line x1="612.5" y1="2861" x2="612.5" y2="2853" stroke="#000" stroke-width="1" stroke-linecap="butt"/>
<line x1="612.5" y1="2639" x2="612.5" y2="2647" stroke="#000" stroke-width="1" stroke-linecap="butt"/>
<line x1="1024.5" y1="2861" x2="1024.5" y2="2853" stroke="#000" stroke-width="1" stroke-linecap="butt"/>
<line x1="1024.5" y1="2639" x2="1024.5" y2="2647" stroke="#000" stroke-width="1" stroke-linecap="butt"/>
<line x1="1436.5" y1="2861" x2="1436.5" y2="2853" stroke="#000" stroke-width="1" stroke-linecap="butt"/>
<line x1="1436.5" y1="2639" x2="1436.5" y2="2647" stroke="#000" stroke-width="1" stroke-linecap="butt"/>
<line x1="117" y1="2861.5" x2="125" y2="2861.5" stroke="#000" stroke-width="1" stroke-linecap="butt"/>
<line x1="1683" y1="2861.5" x2="1675" y2="2861.5" stroke="#000" stroke-width="1" stroke-linecap="butt"/>
<line x1="117" y1="2824.5" x2="125" y2="2824.5" stroke="#000" stroke-width="1" stroke-linecap="butt"/>
<line x1="1683" y1="2824.5" x2="1675" y2="2824.5" stroke="#000" stroke-width="1" stroke-linecap="butt"/>
<line x1="117" y1="2787.5" x2="125" y2="2787.5" stroke="#000" stroke-width="1" stroke-linecap="butt"/>
<line x1="1683" y1="2787.5" x2="1675" y2="2787.5" stroke="#000" stroke-width="1" stroke-linecap="butt"/>
<line x1="117" y1="2750.5" x2="125" y2="2750.5" stroke="#000" stroke-width="1" stroke-linecap="butt"/>
<line x1="1683" y1="2750.5" x2="1675" y2="2750.5" stroke="#000" stroke-width="1" stroke-linecap="butt"/>
<line x1="117" y1="2713.5" x2="125" y2="2713.5" stroke="#000" stroke-width="1" stroke-linecap="butt"/>
<line x1="1683" y1="2713.5" x2="1675" y2="2713.5" stroke="#000" stroke-width="1" stroke-linecap="butt"/>
<line x1="117" y1="2676.5" x2="125" y2="2676.5" stroke="#000" stroke-width="1" stroke-linecap="butt"/>
<line x1="1683" y1="2676.5" x2="1675" y2="2676.5" stroke="#000" stroke-width="1" stroke-linecap="butt"/>
<line x1="117" y1="2639.5" x2="125" y2="2639.5" stroke="#000" stroke-width="1" stroke-linecap="butt"/>
<line x1="1683" y1="2639.5" x2="1675" y2="2639.5" stroke="#000" stroke-width="1" stroke-linecap="butt"/>
<rect x="117" y="2639" width="1566" height="222" fill="none" stroke="#000" stroke-width="2"/>
<text x="199.42" y="2883.9" font-family="Liberation Sans" font-size="17.67" text-anchor="middle" textLength="128.05" lengthAdjust="spacingAndGlyphs" fill="#000">12/27 06:05:54</text>
<text x="611.53" y="2883.9" font-family="Liberation Sans" font-size="17.67" text-anchor="middle" textLength="128.05" lengthAdjust="spacingAndGlyphs" fill="#000">12/27 06:05:59</text>
<text x="1023.63" y="2883.9" font-family="Liberation Sans" font-size="17.67" text-anchor="middle" textLength="128.05" lengthAdjust="spacingAndGlyphs" fill="#000">12/27 06:06:04</text>
<text x="1435.74" y="2883.9" font-family="Liberation Sans" font-size="17.67" text-anchor="middle" textLength="128.05" lengthAdjust="spacingAndGlyphs" fill="#000">12/27 06:06:09</text>
<text x="107.7" y="2866.2" font-family="Liberation Sans" font-size="17.67" text-anchor="end" textLength="31.78" lengthAdjust="spacingAndGlyphs" fill="#000">380</text>
<text x="107.7" y="2829.2" font-family="Liberation Sans" font-size="17.67" text-anchor="end" textLength="31.78" lengthAdjust="spacingAndGlyphs" fill="#000">400</text>
<text x="107.7" y="2792.2" font-family="Liberation Sans" font-size="17.67" text-anchor="end" textLength="31.78" lengthAdjust="spacingAndGlyphs" fill="#000">420</text>
<text x="107.7" y="2755.2" font-family="Liberation Sans" font-size="17.67" text-anchor="end" textLength="31.78" lengthAdjust="spacingAndGlyphs" fill="#000">440</text>
<text x="107.7" y="2718.2" font-family="Liberation Sans" font-size="17.67" text-anchor="end" textLength="31.78" lengthAdjust="spacingAndGlyphs" fill="#000">460</text>
<text x="107.7" y="2681.2" font-family="Liberation Sans" font-size="17.67" text-anchor="end" textLength="31.78" lengthAdjust="spacingAndGlyphs" fill="#000">480</text>
<text x="107.7" y="2644.2" font-family="Liberation Sans" font-size="17.67" text-anchor="end" textLength="31.78" lengthAdjust="spacingAndGlyphs" fill="#000">500</text>
<text x="900" y="2629" font-family="Liberation Sans" font-size="24.73" text-anchor="middle" textLength="272.7" lengthAdjust="spacingAndGlyphs" fill="#000">Proton Number Density</text>
<text x="63.1" y="2752.7" font-family="Liberation Sans" font-size="17.67" text-anchor="middle" textLength="73.88" lengthAdjust="spacingAndGlyphs" fill="#000" transform="rotate(-90 63.1 2752.7)">Np(#/cc)</text>
<clipPath id="c12"><rect x="117" y="2973" width="1566" height="222"/></clipPath>
<g clip-path="url(#c12)">
<polyline points="117,2975.5 199.42,3085.2 281.84,3124 364.26,3129.4 446.68,3129.4 529.11,3129.8 611.53,3130.2 693.95,3102.8 776.37,3098.6 858.79,3133.6 941.21,3131.3 1023.63,3129 1106.05,3147.5 1188.47,3145.5 1270.89,3168.6 1353.32,3148.6 1435.74,3144.8 1518.16,3152.5 1600.58,3130.9 1683,3122.8" fill="none" stroke="#0000ff" stroke-width="2.1" stroke-linejoin="round" stroke-linecap="butt"/>
</g>
<line x1="199.5" y1="3195" x2="199.5" y2="3187" stroke="#000" stroke-width="1" stroke-linecap="butt"/>
<line x1="199.5" y1="2973" x2="199.5" y2="2981" stroke="#000" stroke-width="1" stroke-linecap="butt"/>
<line x1="612.5" y1="3195" x2="612.5" y2="3187" stroke="#000" stroke-width="1" stroke-linecap="butt"/>
<line x1="612.5" y1="2973" x2="612.5" y2="2981" stroke="#000" stroke-width="1" stroke-linecap="butt"/>
<line x1="1024.5" y1="3195" x2="1024.5" y2="3187" stroke="#000" stroke-width="1" stroke-linecap="butt"/>
<line x1="1024.5" y1="2973" x2="1024.5" y2="2981" stroke="#000" stroke-width="1" stroke-linecap="butt"/>
<line x1="1436.5" y1="3195" x2="1436.5" y2="3187" stroke="#000" stroke-width="1" stroke-linecap="butt"/>
<line x1="1436.5" y1="2973" x2="1436.5" y2="2981" stroke="#000" stroke-width="1" stroke-linecap="butt"/>
<line x1="117" y1="3195.5" x2="125" y2="3195.5" stroke="#000" stroke-width="1" stroke-linecap="butt"/>
<line x1="1683" y1="3195.5" x2="1675" y2="3195.5" stroke="#000" stroke-width="1" stroke-linecap="butt"/>
<line x1="117" y1="3163.5" x2="125" y2="3163.5" stroke="#000" stroke-width="1" stroke-linecap="butt"/>
<line x1="1683" y1="3163.5" x2="1675" y2="3163.5" stroke="#000" stroke-width="1" stroke-linecap="butt"/>
<line x1="117" y1="3132.5" x2="125" y2="3132.5" stroke="#000" stroke-width="1" stroke-linecap="butt"/>
<line x1="1683" y1="3132.5" x2="1675" y2="3132.5" stroke="#000" stroke-width="1" stroke-linecap="butt"/>
<line x1="117" y1="3100.5" x2="125" y2="3100.5" stroke="#000" stroke-width="1" stroke-linecap="butt"/>
<line x1="1683" y1="3100.5" x2="1675" y2="3100.5" stroke="#000" stroke-width="1" stroke-linecap="butt"/>
<line x1="117" y1="3068.5" x2="125" y2="3068.5" stroke="#000" stroke-width="1" stroke-linecap="butt"/>
<line x1="1683" y1="3068.5" x2="1675" y2="3068.5" stroke="#000" stroke-width="1" stroke-linecap="butt"/>
<line x1="117" y1="3036.5" x2="125" y2="3036.5" stroke="#000" stroke-width="1" stroke-linecap="butt"/>
<line x1="1683" y1="3036.5" x2="1675" y2="3036.5" stroke="#000" stroke-width="1" stroke-linecap="butt"/>
<line x1="117" y1="3005.5" x2="125" y2="3005.5" stroke="#000" stroke-width="1" stroke-linecap="butt"/>
<line x1="1683" y1="3005.5" x2="1675" y2="3005.5" stroke="#000" stroke-width="1" stroke-linecap="butt"/>
<line x1="117" y1="2973.5" x2="125" y2="2973.5" stroke="#000" stroke-width="1" stroke-linecap="butt"/>
<line x1="1683" y1="2973.5" x2="1675" y2="2973.5" stroke="#000" stroke-width="1" stroke-linecap="butt"/>
<rect x="117" y="2973" width="1566" height="222" fill="none" stroke="#000" stroke-width="2"/>
<text x="199.42" y="3217.9" font-family="Liberation Sans" font-size="17.67" text-anchor="middle" textLength="128.05" lengthAdjust="spacingAndGlyphs" fill="#000">12/27 06:05:54</text>
<text x="611.53" y="3217.9" font-family="Liberation Sans" font-size="17.67" text-anchor="middle" textLength="128.05" lengthAdjust="spacingAndGlyphs" fill="#000">12/27 06:05:59</text>
<text x="1023.63" y="3217.9" font-family="Liberation Sans" font-size="17.67" text-anchor="middle" textLength="128.05" lengthAdjust="spacingAndGlyphs" fill="#000">12/27 06:06:04</text>
<text x="1435.74" y="3217.9" font-family="Liberation Sans" font-size="17.67" text-anchor="middle" textLength="128.05" lengthAdjust="spacingAndGlyphs" fill="#000">12/27 06:06:09</text>
<text x="107.7" y="3200.2" font-family="Liberation Sans" font-size="17.67" text-anchor="end" textLength="47.66" lengthAdjust="spacingAndGlyphs" fill="#000">0.090</text>
<text x="107.7" y="3168.49" font-family="Liberation Sans" font-size="17.67" text-anchor="end" textLength="47.66" lengthAdjust="spacingAndGlyphs" fill="#000">0.095</text>
<text x="107.7" y="3136.77" font-family="Liberation Sans" font-size="17.67" text-anchor="end" textLength="47.66" lengthAdjust="spacingAndGlyphs" fill="#000">0.100</text>
<text x="107.7" y="3105.06" font-family="Liberation Sans" font-size="17.67" text-anchor="end" textLength="47.66" lengthAdjust="spacingAndGlyphs" fill="#000">0.105</text>
<text x="107.7" y="3073.34" font-family="Liberation Sans" font-size="17.67" text-anchor="end" textLength="47.66" lengthAdjust="spacingAndGlyphs" fill="#000">0.110</text>
<text x="107.7" y="3041.63" font-family="Liberation Sans" font-size="17.67" text-anchor="end" textLength="47.66" lengthAdjust="spacingAndGlyphs" fill="#000">0.115</text>
<text x="107.7" y="3009.91" font-family="Liberation Sans" font-size="17.67" text-anchor="end" textLength="47.66" lengthAdjust="spacingAndGlyphs" fill="#000">0.120</text>
<text x="107.7" y="2978.2" font-family="Liberation Sans" font-size="17.67" text-anchor="end" textLength="47.66" lengthAdjust="spacingAndGlyphs" fill="#000">0.125</text>
<rect x="124" y="2980.2" width="71" height="27" fill="#fff" stroke="#000" stroke-width="2"/>
<line x1="133" y1="2993.1" x2="156.2" y2="2993.1" stroke="#0000ff" stroke-width="1.8" stroke-linecap="butt"/>
<text x="170.5" y="2998.1" font-family="Liberation Sans" font-size="15.9" text-anchor="start" textLength="18.68" lengthAdjust="spacingAndGlyphs" fill="#000">Tp</text>
<g transform="rotate(-90 43.1 3118.6)">
<text x="43.1" y="3118.6" font-family="Liberation Sans" font-size="17.67" text-anchor="start" textLength="26.8" lengthAdjust="spacingAndGlyphs" fill="#000">Tp(</text>
<text x="69.9" y="3118.6" font-family="Liberation Serif" font-size="16.75" text-anchor="start" textLength="16.2" lengthAdjust="spacingAndGlyphs" fill="#000">10</text>
<text x="87.1" y="3112.6" font-family="Liberation Serif" font-size="11.66" text-anchor="start" textLength="6" lengthAdjust="spacingAndGlyphs" fill="#000">6</text>
<text x="93.7" y="3118.6" font-family="Liberation Sans" font-size="17.67" text-anchor="start" textLength="17" lengthAdjust="spacingAndGlyphs" fill="#000">K)</text>
</g>
<text x="726.2" y="2960.7" font-family="Liberation Sans" font-size="24.73" text-anchor="start" textLength="283.4" lengthAdjust="spacingAndGlyphs" fill="#000">Proton Temperature and</text>
<text x="1014.6" y="2960.7" font-family="Liberation Serif" font-size="23.85" font-style="italic" text-anchor="start" textLength="16.2" lengthAdjust="spacingAndGlyphs" fill="#222">T</text>
<text x="1030" y="2964.2" font-family="Liberation Serif" font-size="15.9" font-style="italic" text-anchor="start" textLength="7.8" lengthAdjust="spacingAndGlyphs" fill="#333">e</text>
<line x1="1048.7" y1="2944.3" x2="1040.2" y2="2966.7" stroke="#111" stroke-width="1.2"/>
<text x="1049.2" y="2960.7" font-family="Liberation Serif" font-size="23.85" font-style="italic" text-anchor="start" textLength="16.2" lengthAdjust="spacingAndGlyphs" fill="#222">T</text>
<text x="1065.2" y="2964.2" font-family="Liberation Serif" font-size="15.9" font-style="italic" text-anchor="start" textLength="7.2" lengthAdjust="spacingAndGlyphs" fill="#333">p</text>
</svg></body></html>
